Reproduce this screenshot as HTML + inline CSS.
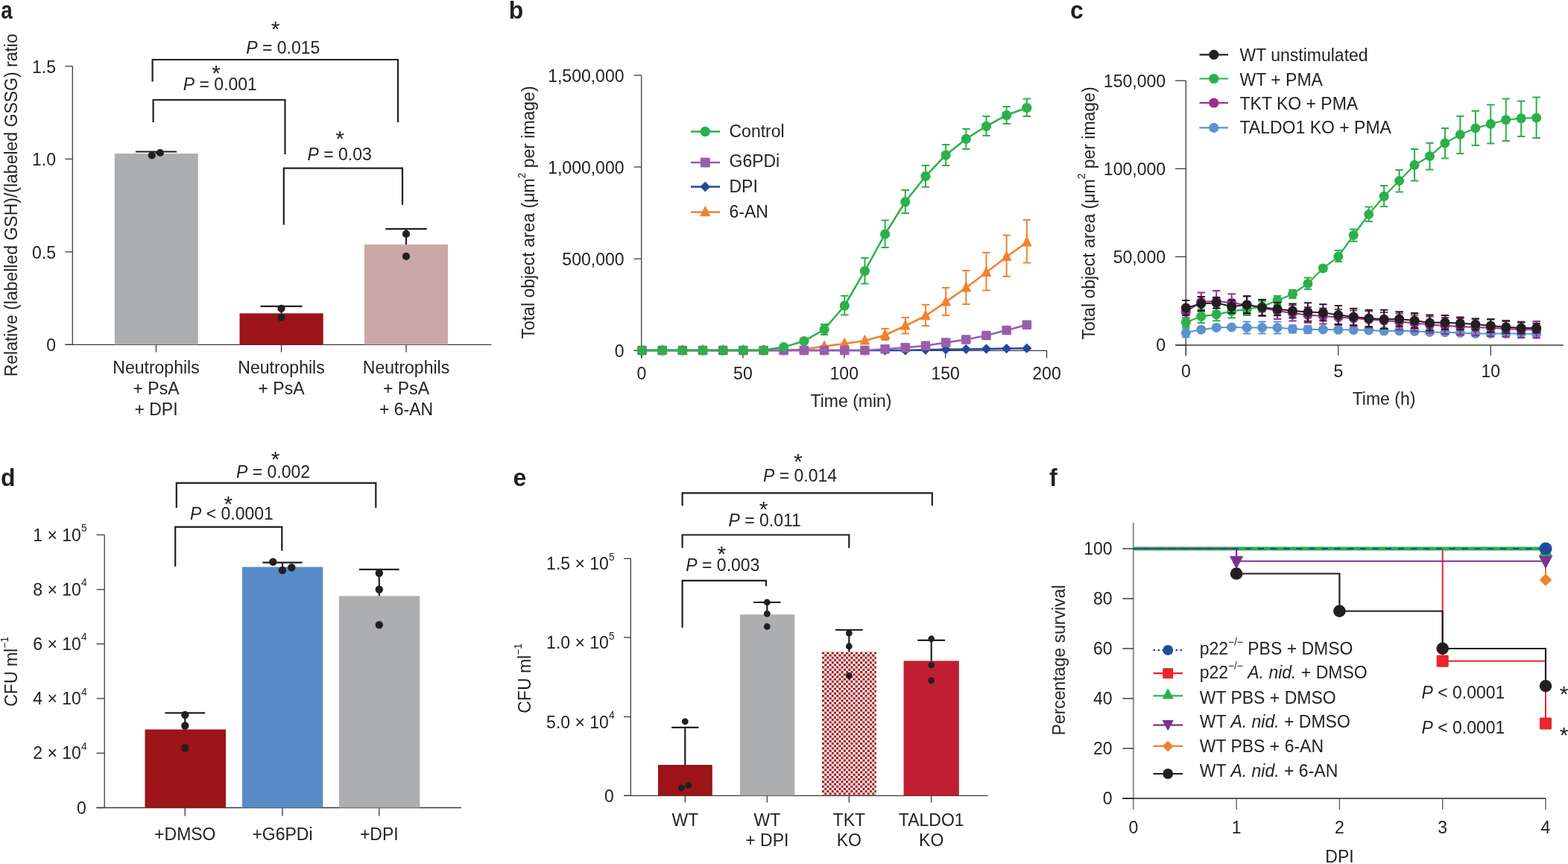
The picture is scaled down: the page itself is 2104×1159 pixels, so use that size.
<!DOCTYPE html>
<html><head><meta charset="utf-8"><title>Figure</title>
<style>
html,body{margin:0;padding:0;background:#fff;}
svg{display:block;}
text{font-family:"Liberation Sans",Arial,Helvetica,sans-serif;}
</style></head>
<body>
<svg width="2104" height="1159" viewBox="0 0 2104 1159">
<rect width="2104" height="1159" fill="#fff"/>
<text transform="translate(1.2,24.9) scale(0.87,1.06)" font-size="32" font-weight="bold" fill="#231F20">a</text>
<text transform="translate(23.3,275.3) rotate(-90) scale(1,1.05)" text-anchor="middle" font-size="23.0" fill="#231F20">Relative (labelled GSH)/(labeled GSSG) ratio</text>
<line x1="97.3" y1="88.7" x2="97.3" y2="462.3" stroke="#3a3a3a" stroke-width="1.3" />
<line x1="87.5" y1="462.3" x2="659.5" y2="462.3" stroke="#3a3a3a" stroke-width="1.3" />
<line x1="87.5" y1="88.9" x2="97.3" y2="88.9" stroke="#3a3a3a" stroke-width="1.3" />
<text transform="translate(75,97.5) scale(1,1.05)" text-anchor="end" font-size="23.0" fill="#231F20" >1.5</text>
<line x1="87.5" y1="213.3" x2="97.3" y2="213.3" stroke="#3a3a3a" stroke-width="1.3" />
<text transform="translate(75,221.9) scale(1,1.05)" text-anchor="end" font-size="23.0" fill="#231F20" >1.0</text>
<line x1="87.5" y1="337.9" x2="97.3" y2="337.9" stroke="#3a3a3a" stroke-width="1.3" />
<text transform="translate(75,346.5) scale(1,1.05)" text-anchor="end" font-size="23.0" fill="#231F20" >0.5</text>
<line x1="87.5" y1="462.3" x2="97.3" y2="462.3" stroke="#3a3a3a" stroke-width="1.3" />
<text transform="translate(75,470.9) scale(1,1.05)" text-anchor="end" font-size="23.0" fill="#231F20" >0</text>
<line x1="209.5" y1="462.3" x2="209.5" y2="472.5" stroke="#3a3a3a" stroke-width="1.3" />
<line x1="377.5" y1="462.3" x2="377.5" y2="472.5" stroke="#3a3a3a" stroke-width="1.3" />
<line x1="545" y1="462.3" x2="545" y2="472.5" stroke="#3a3a3a" stroke-width="1.3" />
<rect x="153.8" y="206" width="112" height="256.3" fill="#ADAEB0"/>
<rect x="321.5" y="420.3" width="112.2" height="42" fill="#9D1419"/>
<rect x="489" y="328" width="112" height="134.3" fill="#CCA7A7"/>
<line x1="209.5" y1="203.5" x2="209.5" y2="206" stroke="#231F20" stroke-width="2.2" />
<line x1="182" y1="203.5" x2="237" y2="203.5" stroke="#231F20" stroke-width="2.2" />
<circle cx="203.8" cy="208.3" r="5.1" fill="#231F20"/>
<circle cx="214.8" cy="205" r="5.1" fill="#231F20"/>
<line x1="377.5" y1="410.8" x2="377.5" y2="420.3" stroke="#231F20" stroke-width="2.2" />
<line x1="349.5" y1="410.8" x2="405.5" y2="410.8" stroke="#231F20" stroke-width="2.2" />
<circle cx="377.5" cy="413.8" r="5.1" fill="#231F20"/>
<circle cx="377.5" cy="426.2" r="5.1" fill="#231F20"/>
<line x1="545" y1="307.2" x2="545" y2="328" stroke="#231F20" stroke-width="2.2" />
<line x1="517.3" y1="307.2" x2="572.7" y2="307.2" stroke="#231F20" stroke-width="2.2" />
<circle cx="545" cy="313.8" r="5.1" fill="#231F20"/>
<circle cx="545" cy="343.8" r="5.1" fill="#231F20"/>
<text transform="translate(209.5,501.3) scale(1,1.05)" text-anchor="middle" font-size="23.0" fill="#231F20" >Neutrophils</text>
<text transform="translate(209.5,528.9) scale(1,1.05)" text-anchor="middle" font-size="23.0" fill="#231F20" >+ PsA</text>
<text transform="translate(209.5,556.5) scale(1,1.05)" text-anchor="middle" font-size="23.0" fill="#231F20" >+ DPI</text>
<text transform="translate(377.5,501.3) scale(1,1.05)" text-anchor="middle" font-size="23.0" fill="#231F20" >Neutrophils</text>
<text transform="translate(377.5,528.9) scale(1,1.05)" text-anchor="middle" font-size="23.0" fill="#231F20" >+ PsA</text>
<text transform="translate(545,501.3) scale(1,1.05)" text-anchor="middle" font-size="23.0" fill="#231F20" >Neutrophils</text>
<text transform="translate(545,528.9) scale(1,1.05)" text-anchor="middle" font-size="23.0" fill="#231F20" >+ PsA</text>
<text transform="translate(545,556.5) scale(1,1.05)" text-anchor="middle" font-size="23.0" fill="#231F20" >+ 6-AN</text>
<polyline points="204.6,109.5 204.6,80 534,80 534,164" fill="none" stroke="#231F20" stroke-width="2.2" stroke-linejoin="miter" />
<polyline points="205.6,164 205.6,134 382.5,134 382.5,207" fill="none" stroke="#231F20" stroke-width="2.2" stroke-linejoin="miter" />
<polyline points="380.8,301.5 380.8,225.7 540,225.7 540,275" fill="none" stroke="#231F20" stroke-width="2.2" stroke-linejoin="miter" />
<text transform="translate(369.7,49.08) scale(1,1.0)" text-anchor="middle" font-size="30" fill="#231F20" >*</text>
<text transform="translate(330.2,71.6) scale(1,1.05)" text-anchor="start" font-size="23.0" fill="#231F20" ><tspan font-style="italic">P</tspan> = 0.015</text>
<text transform="translate(290.2,107.68) scale(1,1.0)" text-anchor="middle" font-size="30" fill="#231F20" >*</text>
<text transform="translate(245.8,121.2) scale(1,1.05)" text-anchor="start" font-size="23.0" fill="#231F20" ><tspan font-style="italic">P</tspan> = 0.001</text>
<text transform="translate(456.2,196.38) scale(1,1.0)" text-anchor="middle" font-size="30" fill="#231F20" >*</text>
<text transform="translate(412.4,214.5) scale(1,1.05)" text-anchor="start" font-size="23.0" fill="#231F20" ><tspan font-style="italic">P</tspan> = 0.03</text>
<text transform="translate(682.8,24.9) scale(1.0,1.06)" font-size="32" font-weight="bold" fill="#231F20">b</text>
<text transform="translate(717.3,285) rotate(-90) scale(1,1.05)" text-anchor="middle" font-size="23.0" fill="#231F20">Total object area (μm<tspan dy="-11.9" font-size="13.7">2</tspan><tspan dy="11.9"> per image)</tspan></text>
<line x1="860.7" y1="101" x2="860.7" y2="480.5" stroke="#3a3a3a" stroke-width="1.3" />
<line x1="850.7" y1="470.3" x2="1405" y2="470.3" stroke="#3a3a3a" stroke-width="1.3" />
<line x1="850.7" y1="101" x2="860.7" y2="101" stroke="#3a3a3a" stroke-width="1.3" />
<text transform="translate(837.5,109.6) scale(1,1.05)" text-anchor="end" font-size="23.0" fill="#231F20" >1,500,000</text>
<line x1="850.7" y1="224" x2="860.7" y2="224" stroke="#3a3a3a" stroke-width="1.3" />
<text transform="translate(837.5,232.6) scale(1,1.05)" text-anchor="end" font-size="23.0" fill="#231F20" >1,000,000</text>
<line x1="850.7" y1="347.2" x2="860.7" y2="347.2" stroke="#3a3a3a" stroke-width="1.3" />
<text transform="translate(837.5,355.8) scale(1,1.05)" text-anchor="end" font-size="23.0" fill="#231F20" >500,000</text>
<line x1="850.7" y1="470.3" x2="860.7" y2="470.3" stroke="#3a3a3a" stroke-width="1.3" />
<text transform="translate(837.5,478.9) scale(1,1.05)" text-anchor="end" font-size="23.0" fill="#231F20" >0</text>
<line x1="861" y1="470.3" x2="861" y2="480.5" stroke="#3a3a3a" stroke-width="1.3" />
<text transform="translate(861,509) scale(1,1.05)" text-anchor="middle" font-size="23.0" fill="#231F20" >0</text>
<line x1="996.88" y1="470.3" x2="996.88" y2="480.5" stroke="#3a3a3a" stroke-width="1.3" />
<text transform="translate(996.88,509) scale(1,1.05)" text-anchor="middle" font-size="23.0" fill="#231F20" >50</text>
<line x1="1132.75" y1="470.3" x2="1132.75" y2="480.5" stroke="#3a3a3a" stroke-width="1.3" />
<text transform="translate(1132.75,509) scale(1,1.05)" text-anchor="middle" font-size="23.0" fill="#231F20" >100</text>
<line x1="1268.62" y1="470.3" x2="1268.62" y2="480.5" stroke="#3a3a3a" stroke-width="1.3" />
<text transform="translate(1268.62,509) scale(1,1.05)" text-anchor="middle" font-size="23.0" fill="#231F20" >150</text>
<line x1="1404.5" y1="470.3" x2="1404.5" y2="480.5" stroke="#3a3a3a" stroke-width="1.3" />
<text transform="translate(1404.5,509) scale(1,1.05)" text-anchor="middle" font-size="23.0" fill="#231F20" >200</text>
<text transform="translate(1142,546) scale(1,1.05)" text-anchor="middle" font-size="23.0" fill="#231F20" >Time (min)</text>
<line x1="1187.6" y1="441" x2="1187.6" y2="456" stroke="#F0822F" stroke-width="2.0" />
<line x1="1182.4" y1="441" x2="1192.8" y2="441" stroke="#F0822F" stroke-width="2.0" />
<line x1="1182.4" y1="456" x2="1192.8" y2="456" stroke="#F0822F" stroke-width="2.0" />
<line x1="1214.78" y1="426" x2="1214.78" y2="447.5" stroke="#F0822F" stroke-width="2.0" />
<line x1="1209.58" y1="426" x2="1219.98" y2="426" stroke="#F0822F" stroke-width="2.0" />
<line x1="1209.58" y1="447.5" x2="1219.98" y2="447.5" stroke="#F0822F" stroke-width="2.0" />
<line x1="1241.95" y1="408.8" x2="1241.95" y2="437" stroke="#F0822F" stroke-width="2.0" />
<line x1="1236.75" y1="408.8" x2="1247.15" y2="408.8" stroke="#F0822F" stroke-width="2.0" />
<line x1="1236.75" y1="437" x2="1247.15" y2="437" stroke="#F0822F" stroke-width="2.0" />
<line x1="1269.12" y1="386" x2="1269.12" y2="423" stroke="#F0822F" stroke-width="2.0" />
<line x1="1263.92" y1="386" x2="1274.33" y2="386" stroke="#F0822F" stroke-width="2.0" />
<line x1="1263.92" y1="423" x2="1274.33" y2="423" stroke="#F0822F" stroke-width="2.0" />
<line x1="1296.3" y1="363" x2="1296.3" y2="408" stroke="#F0822F" stroke-width="2.0" />
<line x1="1291.1" y1="363" x2="1301.5" y2="363" stroke="#F0822F" stroke-width="2.0" />
<line x1="1291.1" y1="408" x2="1301.5" y2="408" stroke="#F0822F" stroke-width="2.0" />
<line x1="1323.47" y1="338.8" x2="1323.47" y2="389.5" stroke="#F0822F" stroke-width="2.0" />
<line x1="1318.27" y1="338.8" x2="1328.67" y2="338.8" stroke="#F0822F" stroke-width="2.0" />
<line x1="1318.27" y1="389.5" x2="1328.67" y2="389.5" stroke="#F0822F" stroke-width="2.0" />
<line x1="1350.65" y1="315.5" x2="1350.65" y2="370.8" stroke="#F0822F" stroke-width="2.0" />
<line x1="1345.45" y1="315.5" x2="1355.85" y2="315.5" stroke="#F0822F" stroke-width="2.0" />
<line x1="1345.45" y1="370.8" x2="1355.85" y2="370.8" stroke="#F0822F" stroke-width="2.0" />
<line x1="1377.82" y1="295" x2="1377.82" y2="352.5" stroke="#F0822F" stroke-width="2.0" />
<line x1="1372.62" y1="295" x2="1383.02" y2="295" stroke="#F0822F" stroke-width="2.0" />
<line x1="1372.62" y1="352.5" x2="1383.02" y2="352.5" stroke="#F0822F" stroke-width="2.0" />
<polyline points="861.5,470 888.67,470 915.85,470 943.02,470 970.2,470 997.38,470 1024.55,470 1051.72,470 1078.9,468.5 1106.08,464.5 1133.25,461 1160.42,457 1187.6,449.5 1214.78,437 1241.95,423.8 1269.12,405 1296.3,386 1323.47,365.5 1350.65,344.5 1377.82,325" fill="none" stroke="#F0822F" stroke-width="2.5" stroke-linejoin="miter" />
<polygon points="861.5,462.5 867.75,475 855.25,475" fill="#F0822F" stroke="#F0822F" stroke-width="1" stroke-linejoin="round"/>
<polygon points="888.67,462.5 894.92,475 882.42,475" fill="#F0822F" stroke="#F0822F" stroke-width="1" stroke-linejoin="round"/>
<polygon points="915.85,462.5 922.1,475 909.6,475" fill="#F0822F" stroke="#F0822F" stroke-width="1" stroke-linejoin="round"/>
<polygon points="943.02,462.5 949.27,475 936.77,475" fill="#F0822F" stroke="#F0822F" stroke-width="1" stroke-linejoin="round"/>
<polygon points="970.2,462.5 976.45,475 963.95,475" fill="#F0822F" stroke="#F0822F" stroke-width="1" stroke-linejoin="round"/>
<polygon points="997.38,462.5 1003.62,475 991.12,475" fill="#F0822F" stroke="#F0822F" stroke-width="1" stroke-linejoin="round"/>
<polygon points="1024.55,462.5 1030.8,475 1018.3,475" fill="#F0822F" stroke="#F0822F" stroke-width="1" stroke-linejoin="round"/>
<polygon points="1051.72,462.5 1057.97,475 1045.47,475" fill="#F0822F" stroke="#F0822F" stroke-width="1" stroke-linejoin="round"/>
<polygon points="1078.9,461 1085.15,473.5 1072.65,473.5" fill="#F0822F" stroke="#F0822F" stroke-width="1" stroke-linejoin="round"/>
<polygon points="1106.08,457 1112.33,469.5 1099.83,469.5" fill="#F0822F" stroke="#F0822F" stroke-width="1" stroke-linejoin="round"/>
<polygon points="1133.25,453.5 1139.5,466 1127,466" fill="#F0822F" stroke="#F0822F" stroke-width="1" stroke-linejoin="round"/>
<polygon points="1160.42,449.5 1166.67,462 1154.17,462" fill="#F0822F" stroke="#F0822F" stroke-width="1" stroke-linejoin="round"/>
<polygon points="1187.6,442 1193.85,454.5 1181.35,454.5" fill="#F0822F" stroke="#F0822F" stroke-width="1" stroke-linejoin="round"/>
<polygon points="1214.78,429.5 1221.03,442 1208.53,442" fill="#F0822F" stroke="#F0822F" stroke-width="1" stroke-linejoin="round"/>
<polygon points="1241.95,416.3 1248.2,428.8 1235.7,428.8" fill="#F0822F" stroke="#F0822F" stroke-width="1" stroke-linejoin="round"/>
<polygon points="1269.12,397.5 1275.38,410 1262.88,410" fill="#F0822F" stroke="#F0822F" stroke-width="1" stroke-linejoin="round"/>
<polygon points="1296.3,378.5 1302.55,391 1290.05,391" fill="#F0822F" stroke="#F0822F" stroke-width="1" stroke-linejoin="round"/>
<polygon points="1323.47,358 1329.72,370.5 1317.22,370.5" fill="#F0822F" stroke="#F0822F" stroke-width="1" stroke-linejoin="round"/>
<polygon points="1350.65,337 1356.9,349.5 1344.4,349.5" fill="#F0822F" stroke="#F0822F" stroke-width="1" stroke-linejoin="round"/>
<polygon points="1377.82,317.5 1384.07,330 1371.57,330" fill="#F0822F" stroke="#F0822F" stroke-width="1" stroke-linejoin="round"/>
<polyline points="861.5,470 888.67,470 915.85,470 943.02,470 970.2,470 997.38,470 1024.55,470 1051.72,470 1078.9,470 1106.08,470 1133.25,470 1160.42,470 1187.6,470 1214.78,470 1241.95,469.2 1269.12,468.8 1296.3,468.4 1323.47,468 1350.65,467.6 1377.82,467.2" fill="none" stroke="#1F4A9E" stroke-width="2.5" stroke-linejoin="miter" />
<polygon points="861.5,463.8 867.7,470 861.5,476.2 855.3,470" fill="#1F4A9E" stroke="#1F4A9E" stroke-width="0.8" stroke-linejoin="round"/>
<polygon points="888.67,463.8 894.88,470 888.67,476.2 882.47,470" fill="#1F4A9E" stroke="#1F4A9E" stroke-width="0.8" stroke-linejoin="round"/>
<polygon points="915.85,463.8 922.05,470 915.85,476.2 909.65,470" fill="#1F4A9E" stroke="#1F4A9E" stroke-width="0.8" stroke-linejoin="round"/>
<polygon points="943.02,463.8 949.23,470 943.02,476.2 936.82,470" fill="#1F4A9E" stroke="#1F4A9E" stroke-width="0.8" stroke-linejoin="round"/>
<polygon points="970.2,463.8 976.4,470 970.2,476.2 964,470" fill="#1F4A9E" stroke="#1F4A9E" stroke-width="0.8" stroke-linejoin="round"/>
<polygon points="997.38,463.8 1003.58,470 997.38,476.2 991.17,470" fill="#1F4A9E" stroke="#1F4A9E" stroke-width="0.8" stroke-linejoin="round"/>
<polygon points="1024.55,463.8 1030.75,470 1024.55,476.2 1018.35,470" fill="#1F4A9E" stroke="#1F4A9E" stroke-width="0.8" stroke-linejoin="round"/>
<polygon points="1051.72,463.8 1057.92,470 1051.72,476.2 1045.52,470" fill="#1F4A9E" stroke="#1F4A9E" stroke-width="0.8" stroke-linejoin="round"/>
<polygon points="1078.9,463.8 1085.1,470 1078.9,476.2 1072.7,470" fill="#1F4A9E" stroke="#1F4A9E" stroke-width="0.8" stroke-linejoin="round"/>
<polygon points="1106.08,463.8 1112.28,470 1106.08,476.2 1099.88,470" fill="#1F4A9E" stroke="#1F4A9E" stroke-width="0.8" stroke-linejoin="round"/>
<polygon points="1133.25,463.8 1139.45,470 1133.25,476.2 1127.05,470" fill="#1F4A9E" stroke="#1F4A9E" stroke-width="0.8" stroke-linejoin="round"/>
<polygon points="1160.42,463.8 1166.62,470 1160.42,476.2 1154.22,470" fill="#1F4A9E" stroke="#1F4A9E" stroke-width="0.8" stroke-linejoin="round"/>
<polygon points="1187.6,463.8 1193.8,470 1187.6,476.2 1181.4,470" fill="#1F4A9E" stroke="#1F4A9E" stroke-width="0.8" stroke-linejoin="round"/>
<polygon points="1214.78,463.8 1220.98,470 1214.78,476.2 1208.58,470" fill="#1F4A9E" stroke="#1F4A9E" stroke-width="0.8" stroke-linejoin="round"/>
<polygon points="1241.95,463 1248.15,469.2 1241.95,475.4 1235.75,469.2" fill="#1F4A9E" stroke="#1F4A9E" stroke-width="0.8" stroke-linejoin="round"/>
<polygon points="1269.12,462.6 1275.33,468.8 1269.12,475 1262.92,468.8" fill="#1F4A9E" stroke="#1F4A9E" stroke-width="0.8" stroke-linejoin="round"/>
<polygon points="1296.3,462.2 1302.5,468.4 1296.3,474.6 1290.1,468.4" fill="#1F4A9E" stroke="#1F4A9E" stroke-width="0.8" stroke-linejoin="round"/>
<polygon points="1323.47,461.8 1329.67,468 1323.47,474.2 1317.27,468" fill="#1F4A9E" stroke="#1F4A9E" stroke-width="0.8" stroke-linejoin="round"/>
<polygon points="1350.65,461.4 1356.85,467.6 1350.65,473.8 1344.45,467.6" fill="#1F4A9E" stroke="#1F4A9E" stroke-width="0.8" stroke-linejoin="round"/>
<polygon points="1377.82,461 1384.02,467.2 1377.82,473.4 1371.62,467.2" fill="#1F4A9E" stroke="#1F4A9E" stroke-width="0.8" stroke-linejoin="round"/>
<polyline points="861.5,470 888.67,470 915.85,470 943.02,470 970.2,470 997.38,470 1024.55,470 1051.72,470 1078.9,470 1106.08,470 1133.25,470 1160.42,470 1187.6,468.2 1214.78,466.2 1241.95,463.8 1269.12,459.5 1296.3,455.5 1323.47,450 1350.65,443 1377.82,435.8" fill="none" stroke="#985EAC" stroke-width="2.5" stroke-linejoin="miter" />
<rect x="855.25" y="463.75" width="12.5" height="12.5" rx="1.2" fill="#985EAC"/>
<rect x="882.42" y="463.75" width="12.5" height="12.5" rx="1.2" fill="#985EAC"/>
<rect x="909.6" y="463.75" width="12.5" height="12.5" rx="1.2" fill="#985EAC"/>
<rect x="936.77" y="463.75" width="12.5" height="12.5" rx="1.2" fill="#985EAC"/>
<rect x="963.95" y="463.75" width="12.5" height="12.5" rx="1.2" fill="#985EAC"/>
<rect x="991.12" y="463.75" width="12.5" height="12.5" rx="1.2" fill="#985EAC"/>
<rect x="1018.3" y="463.75" width="12.5" height="12.5" rx="1.2" fill="#985EAC"/>
<rect x="1045.47" y="463.75" width="12.5" height="12.5" rx="1.2" fill="#985EAC"/>
<rect x="1072.65" y="463.75" width="12.5" height="12.5" rx="1.2" fill="#985EAC"/>
<rect x="1099.83" y="463.75" width="12.5" height="12.5" rx="1.2" fill="#985EAC"/>
<rect x="1127" y="463.75" width="12.5" height="12.5" rx="1.2" fill="#985EAC"/>
<rect x="1154.17" y="463.75" width="12.5" height="12.5" rx="1.2" fill="#985EAC"/>
<rect x="1181.35" y="461.95" width="12.5" height="12.5" rx="1.2" fill="#985EAC"/>
<rect x="1208.53" y="459.95" width="12.5" height="12.5" rx="1.2" fill="#985EAC"/>
<rect x="1235.7" y="457.55" width="12.5" height="12.5" rx="1.2" fill="#985EAC"/>
<rect x="1262.88" y="453.25" width="12.5" height="12.5" rx="1.2" fill="#985EAC"/>
<rect x="1290.05" y="449.25" width="12.5" height="12.5" rx="1.2" fill="#985EAC"/>
<rect x="1317.22" y="443.75" width="12.5" height="12.5" rx="1.2" fill="#985EAC"/>
<rect x="1344.4" y="436.75" width="12.5" height="12.5" rx="1.2" fill="#985EAC"/>
<rect x="1371.57" y="429.55" width="12.5" height="12.5" rx="1.2" fill="#985EAC"/>
<line x1="1106.08" y1="435" x2="1106.08" y2="449" stroke="#2BB04A" stroke-width="2.0" />
<line x1="1100.88" y1="435" x2="1111.28" y2="435" stroke="#2BB04A" stroke-width="2.0" />
<line x1="1100.88" y1="449" x2="1111.28" y2="449" stroke="#2BB04A" stroke-width="2.0" />
<line x1="1133.25" y1="396.8" x2="1133.25" y2="422.5" stroke="#2BB04A" stroke-width="2.0" />
<line x1="1128.05" y1="396.8" x2="1138.45" y2="396.8" stroke="#2BB04A" stroke-width="2.0" />
<line x1="1128.05" y1="422.5" x2="1138.45" y2="422.5" stroke="#2BB04A" stroke-width="2.0" />
<line x1="1160.42" y1="346" x2="1160.42" y2="380.5" stroke="#2BB04A" stroke-width="2.0" />
<line x1="1155.22" y1="346" x2="1165.62" y2="346" stroke="#2BB04A" stroke-width="2.0" />
<line x1="1155.22" y1="380.5" x2="1165.62" y2="380.5" stroke="#2BB04A" stroke-width="2.0" />
<line x1="1187.6" y1="295.5" x2="1187.6" y2="332" stroke="#2BB04A" stroke-width="2.0" />
<line x1="1182.4" y1="295.5" x2="1192.8" y2="295.5" stroke="#2BB04A" stroke-width="2.0" />
<line x1="1182.4" y1="332" x2="1192.8" y2="332" stroke="#2BB04A" stroke-width="2.0" />
<line x1="1214.78" y1="255" x2="1214.78" y2="286" stroke="#2BB04A" stroke-width="2.0" />
<line x1="1209.58" y1="255" x2="1219.98" y2="255" stroke="#2BB04A" stroke-width="2.0" />
<line x1="1209.58" y1="286" x2="1219.98" y2="286" stroke="#2BB04A" stroke-width="2.0" />
<line x1="1241.95" y1="222" x2="1241.95" y2="250.8" stroke="#2BB04A" stroke-width="2.0" />
<line x1="1236.75" y1="222" x2="1247.15" y2="222" stroke="#2BB04A" stroke-width="2.0" />
<line x1="1236.75" y1="250.8" x2="1247.15" y2="250.8" stroke="#2BB04A" stroke-width="2.0" />
<line x1="1269.12" y1="194" x2="1269.12" y2="222" stroke="#2BB04A" stroke-width="2.0" />
<line x1="1263.92" y1="194" x2="1274.33" y2="194" stroke="#2BB04A" stroke-width="2.0" />
<line x1="1263.92" y1="222" x2="1274.33" y2="222" stroke="#2BB04A" stroke-width="2.0" />
<line x1="1296.3" y1="173" x2="1296.3" y2="200" stroke="#2BB04A" stroke-width="2.0" />
<line x1="1291.1" y1="173" x2="1301.5" y2="173" stroke="#2BB04A" stroke-width="2.0" />
<line x1="1291.1" y1="200" x2="1301.5" y2="200" stroke="#2BB04A" stroke-width="2.0" />
<line x1="1323.47" y1="156" x2="1323.47" y2="182" stroke="#2BB04A" stroke-width="2.0" />
<line x1="1318.27" y1="156" x2="1328.67" y2="156" stroke="#2BB04A" stroke-width="2.0" />
<line x1="1318.27" y1="182" x2="1328.67" y2="182" stroke="#2BB04A" stroke-width="2.0" />
<line x1="1350.65" y1="143" x2="1350.65" y2="166" stroke="#2BB04A" stroke-width="2.0" />
<line x1="1345.45" y1="143" x2="1355.85" y2="143" stroke="#2BB04A" stroke-width="2.0" />
<line x1="1345.45" y1="166" x2="1355.85" y2="166" stroke="#2BB04A" stroke-width="2.0" />
<line x1="1377.82" y1="132.5" x2="1377.82" y2="156" stroke="#2BB04A" stroke-width="2.0" />
<line x1="1372.62" y1="132.5" x2="1383.02" y2="132.5" stroke="#2BB04A" stroke-width="2.0" />
<line x1="1372.62" y1="156" x2="1383.02" y2="156" stroke="#2BB04A" stroke-width="2.0" />
<polyline points="861.5,470 888.67,470 915.85,470 943.02,470 970.2,470 997.38,470 1024.55,469.8 1051.72,465.6 1078.9,457.5 1106.08,441.8 1133.25,410 1160.42,363.5 1187.6,314 1214.78,270.8 1241.95,236.3 1269.12,208 1296.3,186.3 1323.47,169.3 1350.65,154.5 1377.82,144.5" fill="none" stroke="#2BB04A" stroke-width="2.5" stroke-linejoin="miter" />
<circle cx="861.5" cy="470" r="6.6" fill="#2BB04A"/>
<circle cx="888.67" cy="470" r="6.6" fill="#2BB04A"/>
<circle cx="915.85" cy="470" r="6.6" fill="#2BB04A"/>
<circle cx="943.02" cy="470" r="6.6" fill="#2BB04A"/>
<circle cx="970.2" cy="470" r="6.6" fill="#2BB04A"/>
<circle cx="997.38" cy="470" r="6.6" fill="#2BB04A"/>
<circle cx="1024.55" cy="469.8" r="6.6" fill="#2BB04A"/>
<circle cx="1051.72" cy="465.6" r="6.6" fill="#2BB04A"/>
<circle cx="1078.9" cy="457.5" r="6.6" fill="#2BB04A"/>
<circle cx="1106.08" cy="441.8" r="6.6" fill="#2BB04A"/>
<circle cx="1133.25" cy="410" r="6.6" fill="#2BB04A"/>
<circle cx="1160.42" cy="363.5" r="6.6" fill="#2BB04A"/>
<circle cx="1187.6" cy="314" r="6.6" fill="#2BB04A"/>
<circle cx="1214.78" cy="270.8" r="6.6" fill="#2BB04A"/>
<circle cx="1241.95" cy="236.3" r="6.6" fill="#2BB04A"/>
<circle cx="1269.12" cy="208" r="6.6" fill="#2BB04A"/>
<circle cx="1296.3" cy="186.3" r="6.6" fill="#2BB04A"/>
<circle cx="1323.47" cy="169.3" r="6.6" fill="#2BB04A"/>
<circle cx="1350.65" cy="154.5" r="6.6" fill="#2BB04A"/>
<circle cx="1377.82" cy="144.5" r="6.6" fill="#2BB04A"/>
<line x1="927" y1="176.5" x2="966" y2="176.5" stroke="#2BB04A" stroke-width="2.5" />
<circle cx="946.3" cy="176.5" r="6.7" fill="#2BB04A"/>
<text transform="translate(978.5,184.3) scale(1,1.05)" text-anchor="start" font-size="23.0" fill="#231F20" >Control</text>
<line x1="927" y1="218" x2="966" y2="218" stroke="#985EAC" stroke-width="2.5" />
<rect x="939.8" y="211.5" width="13" height="13" rx="1.2" fill="#985EAC"/>
<text transform="translate(978.5,223.8) scale(1,1.05)" text-anchor="start" font-size="23.0" fill="#231F20" >G6PDi</text>
<line x1="927" y1="250.5" x2="966" y2="250.5" stroke="#1F4A9E" stroke-width="2.5" />
<polygon points="946.3,244 952.8,250.5 946.3,257 939.8,250.5" fill="#1F4A9E" stroke="#1F4A9E" stroke-width="0.8" stroke-linejoin="round"/>
<text transform="translate(978.5,257.5) scale(1,1.05)" text-anchor="start" font-size="23.0" fill="#231F20" >DPI</text>
<line x1="927" y1="284.5" x2="966" y2="284.5" stroke="#F0822F" stroke-width="2.5" />
<polygon points="946.3,276.7 952.8,289.7 939.8,289.7" fill="#F0822F" stroke="#F0822F" stroke-width="1" stroke-linejoin="round"/>
<text transform="translate(978.5,292) scale(1,1.05)" text-anchor="start" font-size="23.0" fill="#231F20" >6-AN</text>
<text transform="translate(1436,24.9) scale(1.0,1.06)" font-size="32" font-weight="bold" fill="#231F20">c</text>
<text transform="translate(1468.8,286) rotate(-90) scale(1,1.05)" text-anchor="middle" font-size="23.0" fill="#231F20">Total object area (μm<tspan dy="-11.9" font-size="13.7">2</tspan><tspan dy="11.9"> per image)</tspan></text>
<line x1="1591.3" y1="108" x2="1591.3" y2="477" stroke="#3a3a3a" stroke-width="1.3" />
<line x1="1577" y1="463" x2="2097.8" y2="463" stroke="#3a3a3a" stroke-width="1.3" />
<line x1="1577" y1="108.2" x2="1591.3" y2="108.2" stroke="#3a3a3a" stroke-width="1.3" />
<text transform="translate(1564,116.6) scale(1,1.05)" text-anchor="end" font-size="23.0" fill="#231F20" >150,000</text>
<line x1="1577" y1="226.3" x2="1591.3" y2="226.3" stroke="#3a3a3a" stroke-width="1.3" />
<text transform="translate(1564,234.7) scale(1,1.05)" text-anchor="end" font-size="23.0" fill="#231F20" >100,000</text>
<line x1="1577" y1="344.4" x2="1591.3" y2="344.4" stroke="#3a3a3a" stroke-width="1.3" />
<text transform="translate(1564,352.8) scale(1,1.05)" text-anchor="end" font-size="23.0" fill="#231F20" >50,000</text>
<line x1="1577" y1="463" x2="1591.3" y2="463" stroke="#3a3a3a" stroke-width="1.3" />
<text transform="translate(1564,471.4) scale(1,1.05)" text-anchor="end" font-size="23.0" fill="#231F20" >0</text>
<line x1="1591.3" y1="463" x2="1591.3" y2="477" stroke="#3a3a3a" stroke-width="1.3" />
<text transform="translate(1591.3,505.7) scale(1,1.05)" text-anchor="middle" font-size="23.0" fill="#231F20" >0</text>
<line x1="1795.8" y1="463" x2="1795.8" y2="477" stroke="#3a3a3a" stroke-width="1.3" />
<text transform="translate(1795.8,505.7) scale(1,1.05)" text-anchor="middle" font-size="23.0" fill="#231F20" >5</text>
<line x1="2000.3" y1="463" x2="2000.3" y2="477" stroke="#3a3a3a" stroke-width="1.3" />
<text transform="translate(2000.3,505.7) scale(1,1.05)" text-anchor="middle" font-size="23.0" fill="#231F20" >10</text>
<text transform="translate(1857,542.6) scale(1,1.05)" text-anchor="middle" font-size="23.0" fill="#231F20" >Time (h)</text>
<line x1="1591.3" y1="440.3" x2="1591.3" y2="452.3" stroke="#5B93CE" stroke-width="2.0" />
<line x1="1586.1" y1="440.3" x2="1596.5" y2="440.3" stroke="#5B93CE" stroke-width="2.0" />
<line x1="1586.1" y1="452.3" x2="1596.5" y2="452.3" stroke="#5B93CE" stroke-width="2.0" />
<line x1="1611.75" y1="440.2" x2="1611.75" y2="444.2" stroke="#5B93CE" stroke-width="2.0" />
<line x1="1606.55" y1="440.2" x2="1616.95" y2="440.2" stroke="#5B93CE" stroke-width="2.0" />
<line x1="1606.55" y1="444.2" x2="1616.95" y2="444.2" stroke="#5B93CE" stroke-width="2.0" />
<line x1="1632.2" y1="437.4" x2="1632.2" y2="441.4" stroke="#5B93CE" stroke-width="2.0" />
<line x1="1627" y1="437.4" x2="1637.4" y2="437.4" stroke="#5B93CE" stroke-width="2.0" />
<line x1="1627" y1="441.4" x2="1637.4" y2="441.4" stroke="#5B93CE" stroke-width="2.0" />
<line x1="1652.65" y1="437" x2="1652.65" y2="441" stroke="#5B93CE" stroke-width="2.0" />
<line x1="1647.45" y1="437" x2="1657.85" y2="437" stroke="#5B93CE" stroke-width="2.0" />
<line x1="1647.45" y1="441" x2="1657.85" y2="441" stroke="#5B93CE" stroke-width="2.0" />
<line x1="1673.1" y1="431.5" x2="1673.1" y2="447.5" stroke="#5B93CE" stroke-width="2.0" />
<line x1="1667.9" y1="431.5" x2="1678.3" y2="431.5" stroke="#5B93CE" stroke-width="2.0" />
<line x1="1667.9" y1="447.5" x2="1678.3" y2="447.5" stroke="#5B93CE" stroke-width="2.0" />
<line x1="1693.55" y1="431.5" x2="1693.55" y2="447.5" stroke="#5B93CE" stroke-width="2.0" />
<line x1="1688.35" y1="431.5" x2="1698.75" y2="431.5" stroke="#5B93CE" stroke-width="2.0" />
<line x1="1688.35" y1="447.5" x2="1698.75" y2="447.5" stroke="#5B93CE" stroke-width="2.0" />
<line x1="1714" y1="431.5" x2="1714" y2="447.5" stroke="#5B93CE" stroke-width="2.0" />
<line x1="1708.8" y1="431.5" x2="1719.2" y2="431.5" stroke="#5B93CE" stroke-width="2.0" />
<line x1="1708.8" y1="447.5" x2="1719.2" y2="447.5" stroke="#5B93CE" stroke-width="2.0" />
<line x1="1734.45" y1="436.3" x2="1734.45" y2="446.3" stroke="#5B93CE" stroke-width="2.0" />
<line x1="1729.25" y1="436.3" x2="1739.65" y2="436.3" stroke="#5B93CE" stroke-width="2.0" />
<line x1="1729.25" y1="446.3" x2="1739.65" y2="446.3" stroke="#5B93CE" stroke-width="2.0" />
<line x1="1754.9" y1="437" x2="1754.9" y2="447" stroke="#5B93CE" stroke-width="2.0" />
<line x1="1749.7" y1="437" x2="1760.1" y2="437" stroke="#5B93CE" stroke-width="2.0" />
<line x1="1749.7" y1="447" x2="1760.1" y2="447" stroke="#5B93CE" stroke-width="2.0" />
<line x1="1775.35" y1="439" x2="1775.35" y2="445" stroke="#5B93CE" stroke-width="2.0" />
<line x1="1770.15" y1="439" x2="1780.55" y2="439" stroke="#5B93CE" stroke-width="2.0" />
<line x1="1770.15" y1="445" x2="1780.55" y2="445" stroke="#5B93CE" stroke-width="2.0" />
<line x1="1795.8" y1="439.3" x2="1795.8" y2="445.3" stroke="#5B93CE" stroke-width="2.0" />
<line x1="1790.6" y1="439.3" x2="1801" y2="439.3" stroke="#5B93CE" stroke-width="2.0" />
<line x1="1790.6" y1="445.3" x2="1801" y2="445.3" stroke="#5B93CE" stroke-width="2.0" />
<line x1="1816.25" y1="440.6" x2="1816.25" y2="444.6" stroke="#5B93CE" stroke-width="2.0" />
<line x1="1811.05" y1="440.6" x2="1821.45" y2="440.6" stroke="#5B93CE" stroke-width="2.0" />
<line x1="1811.05" y1="444.6" x2="1821.45" y2="444.6" stroke="#5B93CE" stroke-width="2.0" />
<line x1="1836.7" y1="441" x2="1836.7" y2="445" stroke="#5B93CE" stroke-width="2.0" />
<line x1="1831.5" y1="441" x2="1841.9" y2="441" stroke="#5B93CE" stroke-width="2.0" />
<line x1="1831.5" y1="445" x2="1841.9" y2="445" stroke="#5B93CE" stroke-width="2.0" />
<line x1="1857.15" y1="442" x2="1857.15" y2="446" stroke="#5B93CE" stroke-width="2.0" />
<line x1="1851.95" y1="442" x2="1862.35" y2="442" stroke="#5B93CE" stroke-width="2.0" />
<line x1="1851.95" y1="446" x2="1862.35" y2="446" stroke="#5B93CE" stroke-width="2.0" />
<line x1="1877.6" y1="441.8" x2="1877.6" y2="445.8" stroke="#5B93CE" stroke-width="2.0" />
<line x1="1872.4" y1="441.8" x2="1882.8" y2="441.8" stroke="#5B93CE" stroke-width="2.0" />
<line x1="1872.4" y1="445.8" x2="1882.8" y2="445.8" stroke="#5B93CE" stroke-width="2.0" />
<line x1="1898.05" y1="442.3" x2="1898.05" y2="446.3" stroke="#5B93CE" stroke-width="2.0" />
<line x1="1892.85" y1="442.3" x2="1903.25" y2="442.3" stroke="#5B93CE" stroke-width="2.0" />
<line x1="1892.85" y1="446.3" x2="1903.25" y2="446.3" stroke="#5B93CE" stroke-width="2.0" />
<line x1="1918.5" y1="443.5" x2="1918.5" y2="447.5" stroke="#5B93CE" stroke-width="2.0" />
<line x1="1913.3" y1="443.5" x2="1923.7" y2="443.5" stroke="#5B93CE" stroke-width="2.0" />
<line x1="1913.3" y1="447.5" x2="1923.7" y2="447.5" stroke="#5B93CE" stroke-width="2.0" />
<line x1="1938.95" y1="443.7" x2="1938.95" y2="447.7" stroke="#5B93CE" stroke-width="2.0" />
<line x1="1933.75" y1="443.7" x2="1944.15" y2="443.7" stroke="#5B93CE" stroke-width="2.0" />
<line x1="1933.75" y1="447.7" x2="1944.15" y2="447.7" stroke="#5B93CE" stroke-width="2.0" />
<line x1="1959.4" y1="444.5" x2="1959.4" y2="448.5" stroke="#5B93CE" stroke-width="2.0" />
<line x1="1954.2" y1="444.5" x2="1964.6" y2="444.5" stroke="#5B93CE" stroke-width="2.0" />
<line x1="1954.2" y1="448.5" x2="1964.6" y2="448.5" stroke="#5B93CE" stroke-width="2.0" />
<line x1="1979.85" y1="445.5" x2="1979.85" y2="449.5" stroke="#5B93CE" stroke-width="2.0" />
<line x1="1974.65" y1="445.5" x2="1985.05" y2="445.5" stroke="#5B93CE" stroke-width="2.0" />
<line x1="1974.65" y1="449.5" x2="1985.05" y2="449.5" stroke="#5B93CE" stroke-width="2.0" />
<line x1="2000.3" y1="445.5" x2="2000.3" y2="449.5" stroke="#5B93CE" stroke-width="2.0" />
<line x1="1995.1" y1="445.5" x2="2005.5" y2="445.5" stroke="#5B93CE" stroke-width="2.0" />
<line x1="1995.1" y1="449.5" x2="2005.5" y2="449.5" stroke="#5B93CE" stroke-width="2.0" />
<line x1="2020.75" y1="445.4" x2="2020.75" y2="449.4" stroke="#5B93CE" stroke-width="2.0" />
<line x1="2015.55" y1="445.4" x2="2025.95" y2="445.4" stroke="#5B93CE" stroke-width="2.0" />
<line x1="2015.55" y1="449.4" x2="2025.95" y2="449.4" stroke="#5B93CE" stroke-width="2.0" />
<line x1="2041.2" y1="445.5" x2="2041.2" y2="449.5" stroke="#5B93CE" stroke-width="2.0" />
<line x1="2036" y1="445.5" x2="2046.4" y2="445.5" stroke="#5B93CE" stroke-width="2.0" />
<line x1="2036" y1="449.5" x2="2046.4" y2="449.5" stroke="#5B93CE" stroke-width="2.0" />
<line x1="2061.65" y1="446" x2="2061.65" y2="450" stroke="#5B93CE" stroke-width="2.0" />
<line x1="2056.45" y1="446" x2="2066.85" y2="446" stroke="#5B93CE" stroke-width="2.0" />
<line x1="2056.45" y1="450" x2="2066.85" y2="450" stroke="#5B93CE" stroke-width="2.0" />
<polyline points="1591.3,446.3 1611.75,442.2 1632.2,439.4 1652.65,439 1673.1,439.5 1693.55,439.5 1714,439.5 1734.45,441.3 1754.9,442 1775.35,442 1795.8,442.3 1816.25,442.6 1836.7,443 1857.15,444 1877.6,443.8 1898.05,444.3 1918.5,445.5 1938.95,445.7 1959.4,446.5 1979.85,447.5 2000.3,447.5 2020.75,447.4 2041.2,447.5 2061.65,448" fill="none" stroke="#5B93CE" stroke-width="2.0" stroke-linejoin="miter" />
<circle cx="1591.3" cy="446.3" r="6.5" fill="#5B93CE"/>
<circle cx="1611.75" cy="442.2" r="6.5" fill="#5B93CE"/>
<circle cx="1632.2" cy="439.4" r="6.5" fill="#5B93CE"/>
<circle cx="1652.65" cy="439" r="6.5" fill="#5B93CE"/>
<circle cx="1673.1" cy="439.5" r="6.5" fill="#5B93CE"/>
<circle cx="1693.55" cy="439.5" r="6.5" fill="#5B93CE"/>
<circle cx="1714" cy="439.5" r="6.5" fill="#5B93CE"/>
<circle cx="1734.45" cy="441.3" r="6.5" fill="#5B93CE"/>
<circle cx="1754.9" cy="442" r="6.5" fill="#5B93CE"/>
<circle cx="1775.35" cy="442" r="6.5" fill="#5B93CE"/>
<circle cx="1795.8" cy="442.3" r="6.5" fill="#5B93CE"/>
<circle cx="1816.25" cy="442.6" r="6.5" fill="#5B93CE"/>
<circle cx="1836.7" cy="443" r="6.5" fill="#5B93CE"/>
<circle cx="1857.15" cy="444" r="6.5" fill="#5B93CE"/>
<circle cx="1877.6" cy="443.8" r="6.5" fill="#5B93CE"/>
<circle cx="1898.05" cy="444.3" r="6.5" fill="#5B93CE"/>
<circle cx="1918.5" cy="445.5" r="6.5" fill="#5B93CE"/>
<circle cx="1938.95" cy="445.7" r="6.5" fill="#5B93CE"/>
<circle cx="1959.4" cy="446.5" r="6.5" fill="#5B93CE"/>
<circle cx="1979.85" cy="447.5" r="6.5" fill="#5B93CE"/>
<circle cx="2000.3" cy="447.5" r="6.5" fill="#5B93CE"/>
<circle cx="2020.75" cy="447.4" r="6.5" fill="#5B93CE"/>
<circle cx="2041.2" cy="447.5" r="6.5" fill="#5B93CE"/>
<circle cx="2061.65" cy="448" r="6.5" fill="#5B93CE"/>
<line x1="1591.3" y1="410.3" x2="1591.3" y2="426.3" stroke="#9C2A8F" stroke-width="2.0" />
<line x1="1586.1" y1="410.3" x2="1596.5" y2="410.3" stroke="#9C2A8F" stroke-width="2.0" />
<line x1="1586.1" y1="426.3" x2="1596.5" y2="426.3" stroke="#9C2A8F" stroke-width="2.0" />
<line x1="1611.75" y1="392.5" x2="1611.75" y2="417.5" stroke="#9C2A8F" stroke-width="2.0" />
<line x1="1606.55" y1="392.5" x2="1616.95" y2="392.5" stroke="#9C2A8F" stroke-width="2.0" />
<line x1="1606.55" y1="417.5" x2="1616.95" y2="417.5" stroke="#9C2A8F" stroke-width="2.0" />
<line x1="1632.2" y1="390" x2="1632.2" y2="417.6" stroke="#9C2A8F" stroke-width="2.0" />
<line x1="1627" y1="390" x2="1637.4" y2="390" stroke="#9C2A8F" stroke-width="2.0" />
<line x1="1627" y1="417.6" x2="1637.4" y2="417.6" stroke="#9C2A8F" stroke-width="2.0" />
<line x1="1652.65" y1="394.3" x2="1652.65" y2="418.3" stroke="#9C2A8F" stroke-width="2.0" />
<line x1="1647.45" y1="394.3" x2="1657.85" y2="394.3" stroke="#9C2A8F" stroke-width="2.0" />
<line x1="1647.45" y1="418.3" x2="1657.85" y2="418.3" stroke="#9C2A8F" stroke-width="2.0" />
<line x1="1673.1" y1="397" x2="1673.1" y2="421" stroke="#9C2A8F" stroke-width="2.0" />
<line x1="1667.9" y1="397" x2="1678.3" y2="397" stroke="#9C2A8F" stroke-width="2.0" />
<line x1="1667.9" y1="421" x2="1678.3" y2="421" stroke="#9C2A8F" stroke-width="2.0" />
<line x1="1693.55" y1="402" x2="1693.55" y2="424" stroke="#9C2A8F" stroke-width="2.0" />
<line x1="1688.35" y1="402" x2="1698.75" y2="402" stroke="#9C2A8F" stroke-width="2.0" />
<line x1="1688.35" y1="424" x2="1698.75" y2="424" stroke="#9C2A8F" stroke-width="2.0" />
<line x1="1714" y1="406" x2="1714" y2="428" stroke="#9C2A8F" stroke-width="2.0" />
<line x1="1708.8" y1="406" x2="1719.2" y2="406" stroke="#9C2A8F" stroke-width="2.0" />
<line x1="1708.8" y1="428" x2="1719.2" y2="428" stroke="#9C2A8F" stroke-width="2.0" />
<line x1="1734.45" y1="409.5" x2="1734.45" y2="430.5" stroke="#9C2A8F" stroke-width="2.0" />
<line x1="1729.25" y1="409.5" x2="1739.65" y2="409.5" stroke="#9C2A8F" stroke-width="2.0" />
<line x1="1729.25" y1="430.5" x2="1739.65" y2="430.5" stroke="#9C2A8F" stroke-width="2.0" />
<line x1="1754.9" y1="412" x2="1754.9" y2="433" stroke="#9C2A8F" stroke-width="2.0" />
<line x1="1749.7" y1="412" x2="1760.1" y2="412" stroke="#9C2A8F" stroke-width="2.0" />
<line x1="1749.7" y1="433" x2="1760.1" y2="433" stroke="#9C2A8F" stroke-width="2.0" />
<line x1="1775.35" y1="413.5" x2="1775.35" y2="434.5" stroke="#9C2A8F" stroke-width="2.0" />
<line x1="1770.15" y1="413.5" x2="1780.55" y2="413.5" stroke="#9C2A8F" stroke-width="2.0" />
<line x1="1770.15" y1="434.5" x2="1780.55" y2="434.5" stroke="#9C2A8F" stroke-width="2.0" />
<line x1="1795.8" y1="415" x2="1795.8" y2="436" stroke="#9C2A8F" stroke-width="2.0" />
<line x1="1790.6" y1="415" x2="1801" y2="415" stroke="#9C2A8F" stroke-width="2.0" />
<line x1="1790.6" y1="436" x2="1801" y2="436" stroke="#9C2A8F" stroke-width="2.0" />
<line x1="1816.25" y1="416.5" x2="1816.25" y2="437.5" stroke="#9C2A8F" stroke-width="2.0" />
<line x1="1811.05" y1="416.5" x2="1821.45" y2="416.5" stroke="#9C2A8F" stroke-width="2.0" />
<line x1="1811.05" y1="437.5" x2="1821.45" y2="437.5" stroke="#9C2A8F" stroke-width="2.0" />
<line x1="1836.7" y1="417.5" x2="1836.7" y2="439.5" stroke="#9C2A8F" stroke-width="2.0" />
<line x1="1831.5" y1="417.5" x2="1841.9" y2="417.5" stroke="#9C2A8F" stroke-width="2.0" />
<line x1="1831.5" y1="439.5" x2="1841.9" y2="439.5" stroke="#9C2A8F" stroke-width="2.0" />
<line x1="1857.15" y1="419" x2="1857.15" y2="441" stroke="#9C2A8F" stroke-width="2.0" />
<line x1="1851.95" y1="419" x2="1862.35" y2="419" stroke="#9C2A8F" stroke-width="2.0" />
<line x1="1851.95" y1="441" x2="1862.35" y2="441" stroke="#9C2A8F" stroke-width="2.0" />
<line x1="1877.6" y1="420.5" x2="1877.6" y2="442.5" stroke="#9C2A8F" stroke-width="2.0" />
<line x1="1872.4" y1="420.5" x2="1882.8" y2="420.5" stroke="#9C2A8F" stroke-width="2.0" />
<line x1="1872.4" y1="442.5" x2="1882.8" y2="442.5" stroke="#9C2A8F" stroke-width="2.0" />
<line x1="1898.05" y1="422.5" x2="1898.05" y2="444.5" stroke="#9C2A8F" stroke-width="2.0" />
<line x1="1892.85" y1="422.5" x2="1903.25" y2="422.5" stroke="#9C2A8F" stroke-width="2.0" />
<line x1="1892.85" y1="444.5" x2="1903.25" y2="444.5" stroke="#9C2A8F" stroke-width="2.0" />
<line x1="1918.5" y1="424.6" x2="1918.5" y2="446.6" stroke="#9C2A8F" stroke-width="2.0" />
<line x1="1913.3" y1="424.6" x2="1923.7" y2="424.6" stroke="#9C2A8F" stroke-width="2.0" />
<line x1="1913.3" y1="446.6" x2="1923.7" y2="446.6" stroke="#9C2A8F" stroke-width="2.0" />
<line x1="1938.95" y1="426" x2="1938.95" y2="448" stroke="#9C2A8F" stroke-width="2.0" />
<line x1="1933.75" y1="426" x2="1944.15" y2="426" stroke="#9C2A8F" stroke-width="2.0" />
<line x1="1933.75" y1="448" x2="1944.15" y2="448" stroke="#9C2A8F" stroke-width="2.0" />
<line x1="1959.4" y1="427" x2="1959.4" y2="449" stroke="#9C2A8F" stroke-width="2.0" />
<line x1="1954.2" y1="427" x2="1964.6" y2="427" stroke="#9C2A8F" stroke-width="2.0" />
<line x1="1954.2" y1="449" x2="1964.6" y2="449" stroke="#9C2A8F" stroke-width="2.0" />
<line x1="1979.85" y1="427.7" x2="1979.85" y2="450.1" stroke="#9C2A8F" stroke-width="2.0" />
<line x1="1974.65" y1="427.7" x2="1985.05" y2="427.7" stroke="#9C2A8F" stroke-width="2.0" />
<line x1="1974.65" y1="450.1" x2="1985.05" y2="450.1" stroke="#9C2A8F" stroke-width="2.0" />
<line x1="2000.3" y1="428.4" x2="2000.3" y2="451.2" stroke="#9C2A8F" stroke-width="2.0" />
<line x1="1995.1" y1="428.4" x2="2005.5" y2="428.4" stroke="#9C2A8F" stroke-width="2.0" />
<line x1="1995.1" y1="451.2" x2="2005.5" y2="451.2" stroke="#9C2A8F" stroke-width="2.0" />
<line x1="2020.75" y1="429.9" x2="2020.75" y2="451.9" stroke="#9C2A8F" stroke-width="2.0" />
<line x1="2015.55" y1="429.9" x2="2025.95" y2="429.9" stroke="#9C2A8F" stroke-width="2.0" />
<line x1="2015.55" y1="451.9" x2="2025.95" y2="451.9" stroke="#9C2A8F" stroke-width="2.0" />
<line x1="2041.2" y1="431.5" x2="2041.2" y2="453.1" stroke="#9C2A8F" stroke-width="2.0" />
<line x1="2036" y1="431.5" x2="2046.4" y2="431.5" stroke="#9C2A8F" stroke-width="2.0" />
<line x1="2036" y1="453.1" x2="2046.4" y2="453.1" stroke="#9C2A8F" stroke-width="2.0" />
<line x1="2061.65" y1="431" x2="2061.65" y2="453.4" stroke="#9C2A8F" stroke-width="2.0" />
<line x1="2056.45" y1="431" x2="2066.85" y2="431" stroke="#9C2A8F" stroke-width="2.0" />
<line x1="2056.45" y1="453.4" x2="2066.85" y2="453.4" stroke="#9C2A8F" stroke-width="2.0" />
<polyline points="1591.3,418.3 1611.75,405 1632.2,403.8 1652.65,406.3 1673.1,409 1693.55,413 1714,417 1734.45,420 1754.9,422.5 1775.35,424 1795.8,425.5 1816.25,427 1836.7,428.5 1857.15,430 1877.6,431.5 1898.05,433.5 1918.5,435.6 1938.95,437 1959.4,438 1979.85,438.9 2000.3,439.8 2020.75,440.9 2041.2,442.3 2061.65,442.2" fill="none" stroke="#9C2A8F" stroke-width="2.0" stroke-linejoin="miter" />
<circle cx="1591.3" cy="418.3" r="6.5" fill="#9C2A8F"/>
<circle cx="1611.75" cy="405" r="6.5" fill="#9C2A8F"/>
<circle cx="1632.2" cy="403.8" r="6.5" fill="#9C2A8F"/>
<circle cx="1652.65" cy="406.3" r="6.5" fill="#9C2A8F"/>
<circle cx="1673.1" cy="409" r="6.5" fill="#9C2A8F"/>
<circle cx="1693.55" cy="413" r="6.5" fill="#9C2A8F"/>
<circle cx="1714" cy="417" r="6.5" fill="#9C2A8F"/>
<circle cx="1734.45" cy="420" r="6.5" fill="#9C2A8F"/>
<circle cx="1754.9" cy="422.5" r="6.5" fill="#9C2A8F"/>
<circle cx="1775.35" cy="424" r="6.5" fill="#9C2A8F"/>
<circle cx="1795.8" cy="425.5" r="6.5" fill="#9C2A8F"/>
<circle cx="1816.25" cy="427" r="6.5" fill="#9C2A8F"/>
<circle cx="1836.7" cy="428.5" r="6.5" fill="#9C2A8F"/>
<circle cx="1857.15" cy="430" r="6.5" fill="#9C2A8F"/>
<circle cx="1877.6" cy="431.5" r="6.5" fill="#9C2A8F"/>
<circle cx="1898.05" cy="433.5" r="6.5" fill="#9C2A8F"/>
<circle cx="1918.5" cy="435.6" r="6.5" fill="#9C2A8F"/>
<circle cx="1938.95" cy="437" r="6.5" fill="#9C2A8F"/>
<circle cx="1959.4" cy="438" r="6.5" fill="#9C2A8F"/>
<circle cx="1979.85" cy="438.9" r="6.5" fill="#9C2A8F"/>
<circle cx="2000.3" cy="439.8" r="6.5" fill="#9C2A8F"/>
<circle cx="2020.75" cy="440.9" r="6.5" fill="#9C2A8F"/>
<circle cx="2041.2" cy="442.3" r="6.5" fill="#9C2A8F"/>
<circle cx="2061.65" cy="442.2" r="6.5" fill="#9C2A8F"/>
<line x1="1591.3" y1="427" x2="1591.3" y2="438.5" stroke="#2BB04A" stroke-width="2.0" />
<line x1="1586.1" y1="427" x2="1596.5" y2="427" stroke="#2BB04A" stroke-width="2.0" />
<line x1="1586.1" y1="438.5" x2="1596.5" y2="438.5" stroke="#2BB04A" stroke-width="2.0" />
<line x1="1611.75" y1="415" x2="1611.75" y2="433.2" stroke="#2BB04A" stroke-width="2.0" />
<line x1="1606.55" y1="415" x2="1616.95" y2="415" stroke="#2BB04A" stroke-width="2.0" />
<line x1="1606.55" y1="433.2" x2="1616.95" y2="433.2" stroke="#2BB04A" stroke-width="2.0" />
<line x1="1632.2" y1="413.3" x2="1632.2" y2="430.3" stroke="#2BB04A" stroke-width="2.0" />
<line x1="1627" y1="413.3" x2="1637.4" y2="413.3" stroke="#2BB04A" stroke-width="2.0" />
<line x1="1627" y1="430.3" x2="1637.4" y2="430.3" stroke="#2BB04A" stroke-width="2.0" />
<line x1="1652.65" y1="410.5" x2="1652.65" y2="426.5" stroke="#2BB04A" stroke-width="2.0" />
<line x1="1647.45" y1="410.5" x2="1657.85" y2="410.5" stroke="#2BB04A" stroke-width="2.0" />
<line x1="1647.45" y1="426.5" x2="1657.85" y2="426.5" stroke="#2BB04A" stroke-width="2.0" />
<line x1="1673.1" y1="407" x2="1673.1" y2="423" stroke="#2BB04A" stroke-width="2.0" />
<line x1="1667.9" y1="407" x2="1678.3" y2="407" stroke="#2BB04A" stroke-width="2.0" />
<line x1="1667.9" y1="423" x2="1678.3" y2="423" stroke="#2BB04A" stroke-width="2.0" />
<line x1="1693.55" y1="404" x2="1693.55" y2="418.5" stroke="#2BB04A" stroke-width="2.0" />
<line x1="1688.35" y1="404" x2="1698.75" y2="404" stroke="#2BB04A" stroke-width="2.0" />
<line x1="1688.35" y1="418.5" x2="1698.75" y2="418.5" stroke="#2BB04A" stroke-width="2.0" />
<line x1="1714" y1="397" x2="1714" y2="409" stroke="#2BB04A" stroke-width="2.0" />
<line x1="1708.8" y1="397" x2="1719.2" y2="397" stroke="#2BB04A" stroke-width="2.0" />
<line x1="1708.8" y1="409" x2="1719.2" y2="409" stroke="#2BB04A" stroke-width="2.0" />
<line x1="1734.45" y1="389" x2="1734.45" y2="400" stroke="#2BB04A" stroke-width="2.0" />
<line x1="1729.25" y1="389" x2="1739.65" y2="389" stroke="#2BB04A" stroke-width="2.0" />
<line x1="1729.25" y1="400" x2="1739.65" y2="400" stroke="#2BB04A" stroke-width="2.0" />
<line x1="1754.9" y1="372.5" x2="1754.9" y2="388" stroke="#2BB04A" stroke-width="2.0" />
<line x1="1749.7" y1="372.5" x2="1760.1" y2="372.5" stroke="#2BB04A" stroke-width="2.0" />
<line x1="1749.7" y1="388" x2="1760.1" y2="388" stroke="#2BB04A" stroke-width="2.0" />
<line x1="1775.35" y1="356" x2="1775.35" y2="364" stroke="#2BB04A" stroke-width="2.0" />
<line x1="1770.15" y1="356" x2="1780.55" y2="356" stroke="#2BB04A" stroke-width="2.0" />
<line x1="1770.15" y1="364" x2="1780.55" y2="364" stroke="#2BB04A" stroke-width="2.0" />
<line x1="1795.8" y1="336" x2="1795.8" y2="351" stroke="#2BB04A" stroke-width="2.0" />
<line x1="1790.6" y1="336" x2="1801" y2="336" stroke="#2BB04A" stroke-width="2.0" />
<line x1="1790.6" y1="351" x2="1801" y2="351" stroke="#2BB04A" stroke-width="2.0" />
<line x1="1816.25" y1="307.5" x2="1816.25" y2="323.8" stroke="#2BB04A" stroke-width="2.0" />
<line x1="1811.05" y1="307.5" x2="1821.45" y2="307.5" stroke="#2BB04A" stroke-width="2.0" />
<line x1="1811.05" y1="323.8" x2="1821.45" y2="323.8" stroke="#2BB04A" stroke-width="2.0" />
<line x1="1836.7" y1="277.5" x2="1836.7" y2="297" stroke="#2BB04A" stroke-width="2.0" />
<line x1="1831.5" y1="277.5" x2="1841.9" y2="277.5" stroke="#2BB04A" stroke-width="2.0" />
<line x1="1831.5" y1="297" x2="1841.9" y2="297" stroke="#2BB04A" stroke-width="2.0" />
<line x1="1857.15" y1="249" x2="1857.15" y2="277" stroke="#2BB04A" stroke-width="2.0" />
<line x1="1851.95" y1="249" x2="1862.35" y2="249" stroke="#2BB04A" stroke-width="2.0" />
<line x1="1851.95" y1="277" x2="1862.35" y2="277" stroke="#2BB04A" stroke-width="2.0" />
<line x1="1877.6" y1="228" x2="1877.6" y2="257.5" stroke="#2BB04A" stroke-width="2.0" />
<line x1="1872.4" y1="228" x2="1882.8" y2="228" stroke="#2BB04A" stroke-width="2.0" />
<line x1="1872.4" y1="257.5" x2="1882.8" y2="257.5" stroke="#2BB04A" stroke-width="2.0" />
<line x1="1898.05" y1="200" x2="1898.05" y2="242.5" stroke="#2BB04A" stroke-width="2.0" />
<line x1="1892.85" y1="200" x2="1903.25" y2="200" stroke="#2BB04A" stroke-width="2.0" />
<line x1="1892.85" y1="242.5" x2="1903.25" y2="242.5" stroke="#2BB04A" stroke-width="2.0" />
<line x1="1918.5" y1="191.8" x2="1918.5" y2="227.5" stroke="#2BB04A" stroke-width="2.0" />
<line x1="1913.3" y1="191.8" x2="1923.7" y2="191.8" stroke="#2BB04A" stroke-width="2.0" />
<line x1="1913.3" y1="227.5" x2="1923.7" y2="227.5" stroke="#2BB04A" stroke-width="2.0" />
<line x1="1938.95" y1="172" x2="1938.95" y2="212.5" stroke="#2BB04A" stroke-width="2.0" />
<line x1="1933.75" y1="172" x2="1944.15" y2="172" stroke="#2BB04A" stroke-width="2.0" />
<line x1="1933.75" y1="212.5" x2="1944.15" y2="212.5" stroke="#2BB04A" stroke-width="2.0" />
<line x1="1959.4" y1="155.8" x2="1959.4" y2="206" stroke="#2BB04A" stroke-width="2.0" />
<line x1="1954.2" y1="155.8" x2="1964.6" y2="155.8" stroke="#2BB04A" stroke-width="2.0" />
<line x1="1954.2" y1="206" x2="1964.6" y2="206" stroke="#2BB04A" stroke-width="2.0" />
<line x1="1979.85" y1="148.8" x2="1979.85" y2="195" stroke="#2BB04A" stroke-width="2.0" />
<line x1="1974.65" y1="148.8" x2="1985.05" y2="148.8" stroke="#2BB04A" stroke-width="2.0" />
<line x1="1974.65" y1="195" x2="1985.05" y2="195" stroke="#2BB04A" stroke-width="2.0" />
<line x1="2000.3" y1="140.5" x2="2000.3" y2="192.5" stroke="#2BB04A" stroke-width="2.0" />
<line x1="1995.1" y1="140.5" x2="2005.5" y2="140.5" stroke="#2BB04A" stroke-width="2.0" />
<line x1="1995.1" y1="192.5" x2="2005.5" y2="192.5" stroke="#2BB04A" stroke-width="2.0" />
<line x1="2020.75" y1="132.5" x2="2020.75" y2="189" stroke="#2BB04A" stroke-width="2.0" />
<line x1="2015.55" y1="132.5" x2="2025.95" y2="132.5" stroke="#2BB04A" stroke-width="2.0" />
<line x1="2015.55" y1="189" x2="2025.95" y2="189" stroke="#2BB04A" stroke-width="2.0" />
<line x1="2041.2" y1="135.5" x2="2041.2" y2="183" stroke="#2BB04A" stroke-width="2.0" />
<line x1="2036" y1="135.5" x2="2046.4" y2="135.5" stroke="#2BB04A" stroke-width="2.0" />
<line x1="2036" y1="183" x2="2046.4" y2="183" stroke="#2BB04A" stroke-width="2.0" />
<line x1="2061.65" y1="130.5" x2="2061.65" y2="185" stroke="#2BB04A" stroke-width="2.0" />
<line x1="2056.45" y1="130.5" x2="2066.85" y2="130.5" stroke="#2BB04A" stroke-width="2.0" />
<line x1="2056.45" y1="185" x2="2066.85" y2="185" stroke="#2BB04A" stroke-width="2.0" />
<polyline points="1591.3,432.5 1611.75,424.3 1632.2,421.8 1652.65,417.5 1673.1,415 1693.55,411.3 1714,403 1734.45,394.5 1754.9,380.5 1775.35,360 1795.8,344 1816.25,315.5 1836.7,287.5 1857.15,263.3 1877.6,242.5 1898.05,221.3 1918.5,209.5 1938.95,192 1959.4,180.5 1979.85,172 2000.3,166.3 2020.75,160.8 2041.2,158.8 2061.65,158" fill="none" stroke="#2BB04A" stroke-width="2.2" stroke-linejoin="miter" />
<circle cx="1591.3" cy="432.5" r="6.5" fill="#2BB04A"/>
<circle cx="1611.75" cy="424.3" r="6.5" fill="#2BB04A"/>
<circle cx="1632.2" cy="421.8" r="6.5" fill="#2BB04A"/>
<circle cx="1652.65" cy="417.5" r="6.5" fill="#2BB04A"/>
<circle cx="1673.1" cy="415" r="6.5" fill="#2BB04A"/>
<circle cx="1693.55" cy="411.3" r="6.5" fill="#2BB04A"/>
<circle cx="1714" cy="403" r="6.5" fill="#2BB04A"/>
<circle cx="1734.45" cy="394.5" r="6.5" fill="#2BB04A"/>
<circle cx="1754.9" cy="380.5" r="6.5" fill="#2BB04A"/>
<circle cx="1775.35" cy="360" r="6.5" fill="#2BB04A"/>
<circle cx="1795.8" cy="344" r="6.5" fill="#2BB04A"/>
<circle cx="1816.25" cy="315.5" r="6.5" fill="#2BB04A"/>
<circle cx="1836.7" cy="287.5" r="6.5" fill="#2BB04A"/>
<circle cx="1857.15" cy="263.3" r="6.5" fill="#2BB04A"/>
<circle cx="1877.6" cy="242.5" r="6.5" fill="#2BB04A"/>
<circle cx="1898.05" cy="221.3" r="6.5" fill="#2BB04A"/>
<circle cx="1918.5" cy="209.5" r="6.5" fill="#2BB04A"/>
<circle cx="1938.95" cy="192" r="6.5" fill="#2BB04A"/>
<circle cx="1959.4" cy="180.5" r="6.5" fill="#2BB04A"/>
<circle cx="1979.85" cy="172" r="6.5" fill="#2BB04A"/>
<circle cx="2000.3" cy="166.3" r="6.5" fill="#2BB04A"/>
<circle cx="2020.75" cy="160.8" r="6.5" fill="#2BB04A"/>
<circle cx="2041.2" cy="158.8" r="6.5" fill="#2BB04A"/>
<circle cx="2061.65" cy="158" r="6.5" fill="#2BB04A"/>
<line x1="1591.3" y1="403" x2="1591.3" y2="423" stroke="#231F20" stroke-width="2.0" />
<line x1="1586.1" y1="403" x2="1596.5" y2="403" stroke="#231F20" stroke-width="2.0" />
<line x1="1586.1" y1="423" x2="1596.5" y2="423" stroke="#231F20" stroke-width="2.0" />
<line x1="1611.75" y1="398" x2="1611.75" y2="417" stroke="#231F20" stroke-width="2.0" />
<line x1="1606.55" y1="398" x2="1616.95" y2="398" stroke="#231F20" stroke-width="2.0" />
<line x1="1606.55" y1="417" x2="1616.95" y2="417" stroke="#231F20" stroke-width="2.0" />
<line x1="1632.2" y1="399" x2="1632.2" y2="413.6" stroke="#231F20" stroke-width="2.0" />
<line x1="1627" y1="399" x2="1637.4" y2="399" stroke="#231F20" stroke-width="2.0" />
<line x1="1627" y1="413.6" x2="1637.4" y2="413.6" stroke="#231F20" stroke-width="2.0" />
<line x1="1652.65" y1="402.5" x2="1652.65" y2="420.1" stroke="#231F20" stroke-width="2.0" />
<line x1="1647.45" y1="402.5" x2="1657.85" y2="402.5" stroke="#231F20" stroke-width="2.0" />
<line x1="1647.45" y1="420.1" x2="1657.85" y2="420.1" stroke="#231F20" stroke-width="2.0" />
<line x1="1673.1" y1="397.5" x2="1673.1" y2="420.1" stroke="#231F20" stroke-width="2.0" />
<line x1="1667.9" y1="397.5" x2="1678.3" y2="397.5" stroke="#231F20" stroke-width="2.0" />
<line x1="1667.9" y1="420.1" x2="1678.3" y2="420.1" stroke="#231F20" stroke-width="2.0" />
<line x1="1693.55" y1="401.8" x2="1693.55" y2="423.2" stroke="#231F20" stroke-width="2.0" />
<line x1="1688.35" y1="401.8" x2="1698.75" y2="401.8" stroke="#231F20" stroke-width="2.0" />
<line x1="1688.35" y1="423.2" x2="1698.75" y2="423.2" stroke="#231F20" stroke-width="2.0" />
<line x1="1714" y1="405.8" x2="1714" y2="423.2" stroke="#231F20" stroke-width="2.0" />
<line x1="1708.8" y1="405.8" x2="1719.2" y2="405.8" stroke="#231F20" stroke-width="2.0" />
<line x1="1708.8" y1="423.2" x2="1719.2" y2="423.2" stroke="#231F20" stroke-width="2.0" />
<line x1="1734.45" y1="407.5" x2="1734.45" y2="426.5" stroke="#231F20" stroke-width="2.0" />
<line x1="1729.25" y1="407.5" x2="1739.65" y2="407.5" stroke="#231F20" stroke-width="2.0" />
<line x1="1729.25" y1="426.5" x2="1739.65" y2="426.5" stroke="#231F20" stroke-width="2.0" />
<line x1="1754.9" y1="406.2" x2="1754.9" y2="430.8" stroke="#231F20" stroke-width="2.0" />
<line x1="1749.7" y1="406.2" x2="1760.1" y2="406.2" stroke="#231F20" stroke-width="2.0" />
<line x1="1749.7" y1="430.8" x2="1760.1" y2="430.8" stroke="#231F20" stroke-width="2.0" />
<line x1="1775.35" y1="408.2" x2="1775.35" y2="430.4" stroke="#231F20" stroke-width="2.0" />
<line x1="1770.15" y1="408.2" x2="1780.55" y2="408.2" stroke="#231F20" stroke-width="2.0" />
<line x1="1770.15" y1="430.4" x2="1780.55" y2="430.4" stroke="#231F20" stroke-width="2.0" />
<line x1="1795.8" y1="410" x2="1795.8" y2="435" stroke="#231F20" stroke-width="2.0" />
<line x1="1790.6" y1="410" x2="1801" y2="410" stroke="#231F20" stroke-width="2.0" />
<line x1="1790.6" y1="435" x2="1801" y2="435" stroke="#231F20" stroke-width="2.0" />
<line x1="1816.25" y1="413.8" x2="1816.25" y2="436.2" stroke="#231F20" stroke-width="2.0" />
<line x1="1811.05" y1="413.8" x2="1821.45" y2="413.8" stroke="#231F20" stroke-width="2.0" />
<line x1="1811.05" y1="436.2" x2="1821.45" y2="436.2" stroke="#231F20" stroke-width="2.0" />
<line x1="1836.7" y1="415.8" x2="1836.7" y2="438.2" stroke="#231F20" stroke-width="2.0" />
<line x1="1831.5" y1="415.8" x2="1841.9" y2="415.8" stroke="#231F20" stroke-width="2.0" />
<line x1="1831.5" y1="438.2" x2="1841.9" y2="438.2" stroke="#231F20" stroke-width="2.0" />
<line x1="1857.15" y1="415.8" x2="1857.15" y2="440.8" stroke="#231F20" stroke-width="2.0" />
<line x1="1851.95" y1="415.8" x2="1862.35" y2="415.8" stroke="#231F20" stroke-width="2.0" />
<line x1="1851.95" y1="440.8" x2="1862.35" y2="440.8" stroke="#231F20" stroke-width="2.0" />
<line x1="1877.6" y1="418.2" x2="1877.6" y2="437.8" stroke="#231F20" stroke-width="2.0" />
<line x1="1872.4" y1="418.2" x2="1882.8" y2="418.2" stroke="#231F20" stroke-width="2.0" />
<line x1="1872.4" y1="437.8" x2="1882.8" y2="437.8" stroke="#231F20" stroke-width="2.0" />
<line x1="1898.05" y1="420" x2="1898.05" y2="440" stroke="#231F20" stroke-width="2.0" />
<line x1="1892.85" y1="420" x2="1903.25" y2="420" stroke="#231F20" stroke-width="2.0" />
<line x1="1892.85" y1="440" x2="1903.25" y2="440" stroke="#231F20" stroke-width="2.0" />
<line x1="1918.5" y1="422.5" x2="1918.5" y2="443.5" stroke="#231F20" stroke-width="2.0" />
<line x1="1913.3" y1="422.5" x2="1923.7" y2="422.5" stroke="#231F20" stroke-width="2.0" />
<line x1="1913.3" y1="443.5" x2="1923.7" y2="443.5" stroke="#231F20" stroke-width="2.0" />
<line x1="1938.95" y1="423" x2="1938.95" y2="442" stroke="#231F20" stroke-width="2.0" />
<line x1="1933.75" y1="423" x2="1944.15" y2="423" stroke="#231F20" stroke-width="2.0" />
<line x1="1933.75" y1="442" x2="1944.15" y2="442" stroke="#231F20" stroke-width="2.0" />
<line x1="1959.4" y1="425.5" x2="1959.4" y2="442.1" stroke="#231F20" stroke-width="2.0" />
<line x1="1954.2" y1="425.5" x2="1964.6" y2="425.5" stroke="#231F20" stroke-width="2.0" />
<line x1="1954.2" y1="442.1" x2="1964.6" y2="442.1" stroke="#231F20" stroke-width="2.0" />
<line x1="1979.85" y1="427.5" x2="1979.85" y2="442.5" stroke="#231F20" stroke-width="2.0" />
<line x1="1974.65" y1="427.5" x2="1985.05" y2="427.5" stroke="#231F20" stroke-width="2.0" />
<line x1="1974.65" y1="442.5" x2="1985.05" y2="442.5" stroke="#231F20" stroke-width="2.0" />
<line x1="2000.3" y1="428.2" x2="2000.3" y2="445.8" stroke="#231F20" stroke-width="2.0" />
<line x1="1995.1" y1="428.2" x2="2005.5" y2="428.2" stroke="#231F20" stroke-width="2.0" />
<line x1="1995.1" y1="445.8" x2="2005.5" y2="445.8" stroke="#231F20" stroke-width="2.0" />
<line x1="2020.75" y1="430.8" x2="2020.75" y2="446.8" stroke="#231F20" stroke-width="2.0" />
<line x1="2015.55" y1="430.8" x2="2025.95" y2="430.8" stroke="#231F20" stroke-width="2.0" />
<line x1="2015.55" y1="446.8" x2="2025.95" y2="446.8" stroke="#231F20" stroke-width="2.0" />
<line x1="2041.2" y1="432.5" x2="2041.2" y2="447.5" stroke="#231F20" stroke-width="2.0" />
<line x1="2036" y1="432.5" x2="2046.4" y2="432.5" stroke="#231F20" stroke-width="2.0" />
<line x1="2036" y1="447.5" x2="2046.4" y2="447.5" stroke="#231F20" stroke-width="2.0" />
<line x1="2061.65" y1="433.8" x2="2061.65" y2="446.2" stroke="#231F20" stroke-width="2.0" />
<line x1="2056.45" y1="433.8" x2="2066.85" y2="433.8" stroke="#231F20" stroke-width="2.0" />
<line x1="2056.45" y1="446.2" x2="2066.85" y2="446.2" stroke="#231F20" stroke-width="2.0" />
<polyline points="1591.3,413 1611.75,407.5 1632.2,406.3 1652.65,411.3 1673.1,408.8 1693.55,412.5 1714,414.5 1734.45,417 1754.9,418.5 1775.35,419.3 1795.8,422.5 1816.25,425 1836.7,427 1857.15,428.3 1877.6,428 1898.05,430 1918.5,433 1938.95,432.5 1959.4,433.8 1979.85,435 2000.3,437 2020.75,438.8 2041.2,440 2061.65,440" fill="none" stroke="#231F20" stroke-width="2.0" stroke-linejoin="miter" />
<circle cx="1591.3" cy="413" r="6.5" fill="#231F20"/>
<circle cx="1611.75" cy="407.5" r="6.5" fill="#231F20"/>
<circle cx="1632.2" cy="406.3" r="6.5" fill="#231F20"/>
<circle cx="1652.65" cy="411.3" r="6.5" fill="#231F20"/>
<circle cx="1673.1" cy="408.8" r="6.5" fill="#231F20"/>
<circle cx="1693.55" cy="412.5" r="6.5" fill="#231F20"/>
<circle cx="1714" cy="414.5" r="6.5" fill="#231F20"/>
<circle cx="1734.45" cy="417" r="6.5" fill="#231F20"/>
<circle cx="1754.9" cy="418.5" r="6.5" fill="#231F20"/>
<circle cx="1775.35" cy="419.3" r="6.5" fill="#231F20"/>
<circle cx="1795.8" cy="422.5" r="6.5" fill="#231F20"/>
<circle cx="1816.25" cy="425" r="6.5" fill="#231F20"/>
<circle cx="1836.7" cy="427" r="6.5" fill="#231F20"/>
<circle cx="1857.15" cy="428.3" r="6.5" fill="#231F20"/>
<circle cx="1877.6" cy="428" r="6.5" fill="#231F20"/>
<circle cx="1898.05" cy="430" r="6.5" fill="#231F20"/>
<circle cx="1918.5" cy="433" r="6.5" fill="#231F20"/>
<circle cx="1938.95" cy="432.5" r="6.5" fill="#231F20"/>
<circle cx="1959.4" cy="433.8" r="6.5" fill="#231F20"/>
<circle cx="1979.85" cy="435" r="6.5" fill="#231F20"/>
<circle cx="2000.3" cy="437" r="6.5" fill="#231F20"/>
<circle cx="2020.75" cy="438.8" r="6.5" fill="#231F20"/>
<circle cx="2041.2" cy="440" r="6.5" fill="#231F20"/>
<circle cx="2061.65" cy="440" r="6.5" fill="#231F20"/>
<line x1="1609.5" y1="73.3" x2="1648" y2="73.3" stroke="#231F20" stroke-width="2.2" />
<circle cx="1628.8" cy="73.3" r="6.6" fill="#231F20"/>
<text transform="translate(1663.5,82.1) scale(1,1.05)" text-anchor="start" font-size="23.0" fill="#231F20" >WT unstimulated</text>
<line x1="1609.5" y1="105.5" x2="1648" y2="105.5" stroke="#2BB04A" stroke-width="2.2" />
<circle cx="1628.8" cy="105.5" r="6.6" fill="#2BB04A"/>
<text transform="translate(1663.5,114.6) scale(1,1.05)" text-anchor="start" font-size="23.0" fill="#231F20" >WT + PMA</text>
<line x1="1609.5" y1="138" x2="1648" y2="138" stroke="#9C2A8F" stroke-width="2.2" />
<circle cx="1628.8" cy="138" r="6.6" fill="#9C2A8F"/>
<text transform="translate(1663.5,146.6) scale(1,1.05)" text-anchor="start" font-size="23.0" fill="#231F20" >TKT KO + PMA</text>
<line x1="1609.5" y1="171.3" x2="1648" y2="171.3" stroke="#5B93CE" stroke-width="2.2" />
<circle cx="1628.8" cy="171.3" r="6.6" fill="#5B93CE"/>
<text transform="translate(1663.5,179.1) scale(1,1.05)" text-anchor="start" font-size="23.0" fill="#231F20" >TALDO1 KO + PMA</text>
<text transform="translate(1,651.9) scale(1.0,1.06)" font-size="32" font-weight="bold" fill="#231F20">d</text>
<text transform="translate(23,901) rotate(-90) scale(1,1.05)" text-anchor="middle" font-size="23.0" fill="#231F20">CFU ml<tspan dy="-11.9" font-size="13.7">−1</tspan></text>
<line x1="140.2" y1="717.5" x2="140.2" y2="1083.5" stroke="#3a3a3a" stroke-width="1.3" />
<line x1="129.5" y1="1083.5" x2="618.8" y2="1083.5" stroke="#3a3a3a" stroke-width="1.3" />
<line x1="129.5" y1="717.5" x2="140.2" y2="717.5" stroke="#3a3a3a" stroke-width="1.3" />
<text transform="translate(116.5,725.5) scale(1,1.05)" text-anchor="end" font-size="23.0" fill="#231F20" >1 × 10<tspan dy="-11.9" font-size="13.7">5</tspan></text>
<line x1="129.5" y1="790.8" x2="140.2" y2="790.8" stroke="#3a3a3a" stroke-width="1.3" />
<text transform="translate(116.5,798.8) scale(1,1.05)" text-anchor="end" font-size="23.0" fill="#231F20" >8 × 10<tspan dy="-11.9" font-size="13.7">4</tspan></text>
<line x1="129.5" y1="863.8" x2="140.2" y2="863.8" stroke="#3a3a3a" stroke-width="1.3" />
<text transform="translate(116.5,871.8) scale(1,1.05)" text-anchor="end" font-size="23.0" fill="#231F20" >6 × 10<tspan dy="-11.9" font-size="13.7">4</tspan></text>
<line x1="129.5" y1="937" x2="140.2" y2="937" stroke="#3a3a3a" stroke-width="1.3" />
<text transform="translate(116.5,945) scale(1,1.05)" text-anchor="end" font-size="23.0" fill="#231F20" >4 × 10<tspan dy="-11.9" font-size="13.7">4</tspan></text>
<line x1="129.5" y1="1010.3" x2="140.2" y2="1010.3" stroke="#3a3a3a" stroke-width="1.3" />
<text transform="translate(116.5,1018.3) scale(1,1.05)" text-anchor="end" font-size="23.0" fill="#231F20" >2 × 10<tspan dy="-11.9" font-size="13.7">4</tspan></text>
<line x1="129.5" y1="1083.5" x2="140.2" y2="1083.5" stroke="#3a3a3a" stroke-width="1.3" />
<text transform="translate(115.8,1091.7) scale(1,1.05)" text-anchor="end" font-size="23.0" fill="#231F20" >0</text>
<line x1="248.3" y1="1083.5" x2="248.3" y2="1094.8" stroke="#3a3a3a" stroke-width="1.3" />
<text transform="translate(248.3,1126.6) scale(1,1.05)" text-anchor="middle" font-size="23.0" fill="#231F20" >+DMSO</text>
<line x1="379" y1="1083.5" x2="379" y2="1094.8" stroke="#3a3a3a" stroke-width="1.3" />
<text transform="translate(379,1126.6) scale(1,1.05)" text-anchor="middle" font-size="23.0" fill="#231F20" >+G6PDi</text>
<line x1="508.8" y1="1083.5" x2="508.8" y2="1094.8" stroke="#3a3a3a" stroke-width="1.3" />
<text transform="translate(508.8,1126.6) scale(1,1.05)" text-anchor="middle" font-size="23.0" fill="#231F20" >+DPI</text>
<rect x="194.5" y="978.5" width="108.5" height="105" fill="#9D1419"/>
<rect x="325" y="760.5" width="108.3" height="323" fill="#598BC8"/>
<rect x="455" y="799.5" width="108.3" height="284" fill="#ADAEB0"/>
<line x1="248.3" y1="956.3" x2="248.3" y2="978.5" stroke="#231F20" stroke-width="2.2" />
<line x1="221.5" y1="956.3" x2="275.1" y2="956.3" stroke="#231F20" stroke-width="2.2" />
<circle cx="248.3" cy="959" r="5.2" fill="#231F20"/>
<circle cx="248.3" cy="973.5" r="5.2" fill="#231F20"/>
<circle cx="248.3" cy="1003.3" r="5.2" fill="#231F20"/>
<line x1="379" y1="754.6" x2="379" y2="760.5" stroke="#231F20" stroke-width="2.2" />
<line x1="352.4" y1="754.6" x2="405.6" y2="754.6" stroke="#231F20" stroke-width="2.2" />
<circle cx="366.3" cy="753.8" r="5.2" fill="#231F20"/>
<circle cx="379" cy="765" r="5.2" fill="#231F20"/>
<circle cx="391.3" cy="761.3" r="5.2" fill="#231F20"/>
<line x1="508.8" y1="763.8" x2="508.8" y2="799.5" stroke="#231F20" stroke-width="2.2" />
<line x1="481.9" y1="763.8" x2="535.7" y2="763.8" stroke="#231F20" stroke-width="2.2" />
<circle cx="508.8" cy="768.8" r="5.2" fill="#231F20"/>
<circle cx="508.8" cy="790.8" r="5.2" fill="#231F20"/>
<circle cx="508.8" cy="838.3" r="5.2" fill="#231F20"/>
<polyline points="235.2,760 235.2,706.8 378.3,706.8 378.3,738.8" fill="none" stroke="#231F20" stroke-width="2.2" stroke-linejoin="miter" />
<polyline points="236.8,681.3 236.8,647.8 504.3,647.8 504.3,681.3" fill="none" stroke="#231F20" stroke-width="2.2" stroke-linejoin="miter" />
<text transform="translate(369.5,625.88) scale(1,1.0)" text-anchor="middle" font-size="30" fill="#231F20" >*</text>
<text transform="translate(317,641.3) scale(1,1.05)" text-anchor="start" font-size="23.0" fill="#231F20" ><tspan font-style="italic">P</tspan> = 0.002</text>
<text transform="translate(306.3,685.88) scale(1,1.0)" text-anchor="middle" font-size="30" fill="#231F20" >*</text>
<text transform="translate(255,697) scale(1,1.05)" text-anchor="start" font-size="23.0" fill="#231F20" ><tspan font-style="italic">P</tspan> &lt; 0.0001</text>
<text transform="translate(688.5,651.9) scale(1.0,1.06)" font-size="32" font-weight="bold" fill="#231F20">e</text>
<text transform="translate(712.2,910) rotate(-90) scale(1,1.05)" text-anchor="middle" font-size="23.0" fill="#231F20">CFU ml<tspan dy="-11.9" font-size="13.7">−1</tspan></text>
<line x1="846.3" y1="749.3" x2="846.3" y2="1067.3" stroke="#3a3a3a" stroke-width="1.3" />
<line x1="837" y1="1067.3" x2="1325.7" y2="1067.3" stroke="#3a3a3a" stroke-width="1.3" />
<line x1="837" y1="749.3" x2="846.3" y2="749.3" stroke="#3a3a3a" stroke-width="1.3" />
<text transform="translate(824.5,764.3) scale(1,1.05)" text-anchor="end" font-size="23.0" fill="#231F20" >1.5 × 10<tspan dy="-11.9" font-size="13.7">5</tspan></text>
<line x1="837" y1="855.1" x2="846.3" y2="855.1" stroke="#3a3a3a" stroke-width="1.3" />
<text transform="translate(824.5,870.1) scale(1,1.05)" text-anchor="end" font-size="23.0" fill="#231F20" >1.0 × 10<tspan dy="-11.9" font-size="13.7">5</tspan></text>
<line x1="837" y1="961.5" x2="846.3" y2="961.5" stroke="#3a3a3a" stroke-width="1.3" />
<text transform="translate(824.5,976.5) scale(1,1.05)" text-anchor="end" font-size="23.0" fill="#231F20" >5.0 × 10<tspan dy="-11.9" font-size="13.7">4</tspan></text>
<line x1="837" y1="1067.3" x2="846.3" y2="1067.3" stroke="#3a3a3a" stroke-width="1.3" />
<text transform="translate(823.8,1075.5) scale(1,1.05)" text-anchor="end" font-size="23.0" fill="#231F20" >0</text>
<line x1="919.3" y1="1067.3" x2="919.3" y2="1076.5" stroke="#3a3a3a" stroke-width="1.3" />
<text transform="translate(919.3,1107.8) scale(1,1.05)" text-anchor="middle" font-size="23.0" fill="#231F20" >WT</text>
<line x1="1029.3" y1="1067.3" x2="1029.3" y2="1076.5" stroke="#3a3a3a" stroke-width="1.3" />
<text transform="translate(1029.3,1107.8) scale(1,1.05)" text-anchor="middle" font-size="23.0" fill="#231F20" >WT</text>
<text transform="translate(1029.3,1135) scale(1,1.05)" text-anchor="middle" font-size="23.0" fill="#231F20" >+ DPI</text>
<line x1="1139.3" y1="1067.3" x2="1139.3" y2="1076.5" stroke="#3a3a3a" stroke-width="1.3" />
<text transform="translate(1139.3,1107.8) scale(1,1.05)" text-anchor="middle" font-size="23.0" fill="#231F20" >TKT</text>
<text transform="translate(1139.3,1135) scale(1,1.05)" text-anchor="middle" font-size="23.0" fill="#231F20" >KO</text>
<line x1="1249.7" y1="1067.3" x2="1249.7" y2="1076.5" stroke="#3a3a3a" stroke-width="1.3" />
<text transform="translate(1249.7,1107.8) scale(1,1.05)" text-anchor="middle" font-size="23.0" fill="#231F20" >TALDO1</text>
<text transform="translate(1249.7,1135) scale(1,1.05)" text-anchor="middle" font-size="23.0" fill="#231F20" >KO</text>
<defs><pattern id="chk" x="1102.9" y="874.4" width="6.4" height="6.4" patternUnits="userSpaceOnUse"><rect x="0.1" y="0.1" width="3.0" height="3.0" fill="#990508"/><rect x="3.3" y="3.3" width="3.0" height="3.0" fill="#990508"/></pattern></defs>
<rect x="883" y="1026" width="72.8" height="41.3" fill="#9D1419"/>
<rect x="993" y="824.3" width="73.3" height="243" fill="#ADAEB0"/>
<rect x="1102.9" y="874.4" width="72.9" height="192.9" fill="url(#chk)"/>
<rect x="1212.5" y="886.5" width="74.3" height="180.8" fill="#C01F33"/>
<line x1="919.3" y1="975.8" x2="919.3" y2="1026" stroke="#231F20" stroke-width="2.2" />
<line x1="901.1" y1="975.8" x2="937.5" y2="975.8" stroke="#231F20" stroke-width="2.2" />
<circle cx="919.3" cy="967.8" r="4.4" fill="#231F20"/>
<circle cx="914.3" cy="1057" r="4.4" fill="#231F20"/>
<circle cx="923.8" cy="1053.3" r="4.4" fill="#231F20"/>
<line x1="1029.3" y1="808" x2="1029.3" y2="824.3" stroke="#231F20" stroke-width="2.2" />
<line x1="1011.1" y1="808" x2="1047.5" y2="808" stroke="#231F20" stroke-width="2.2" />
<circle cx="1029.3" cy="808" r="4.4" fill="#231F20"/>
<circle cx="1029.3" cy="823.3" r="4.4" fill="#231F20"/>
<circle cx="1029.3" cy="840.5" r="4.4" fill="#231F20"/>
<line x1="1139.3" y1="845" x2="1139.3" y2="874.4" stroke="#231F20" stroke-width="2.2" />
<line x1="1120.9" y1="845" x2="1157.7" y2="845" stroke="#231F20" stroke-width="2.2" />
<circle cx="1139.3" cy="849.3" r="4.4" fill="#231F20"/>
<circle cx="1139.3" cy="867" r="4.4" fill="#231F20"/>
<circle cx="1139.3" cy="906.5" r="4.4" fill="#231F20"/>
<line x1="1249.7" y1="858.8" x2="1249.7" y2="886.5" stroke="#231F20" stroke-width="2.2" />
<line x1="1231.3" y1="858.8" x2="1268.1" y2="858.8" stroke="#231F20" stroke-width="2.2" />
<circle cx="1249.7" cy="857" r="4.4" fill="#231F20"/>
<circle cx="1249.7" cy="892" r="4.4" fill="#231F20"/>
<circle cx="1249.7" cy="912.8" r="4.4" fill="#231F20"/>
<polyline points="915.6,678.5 915.6,661.3 1250.8,661.3 1250.8,678.5" fill="none" stroke="#231F20" stroke-width="2.2" stroke-linejoin="miter" />
<polyline points="915.6,735 915.6,717.5 1139.3,717.5 1139.3,735" fill="none" stroke="#231F20" stroke-width="2.2" stroke-linejoin="miter" />
<polyline points="915.6,842 915.6,778.8 1028,778.8 1028,786.3" fill="none" stroke="#231F20" stroke-width="2.2" stroke-linejoin="miter" />
<text transform="translate(1070.8,629.38) scale(1,1.0)" text-anchor="middle" font-size="30" fill="#231F20" >*</text>
<text transform="translate(1024,646.3) scale(1,1.05)" text-anchor="start" font-size="23.0" fill="#231F20" ><tspan font-style="italic">P</tspan> = 0.014</text>
<text transform="translate(1024.5,692.88) scale(1,1.0)" text-anchor="middle" font-size="30" fill="#231F20" >*</text>
<text transform="translate(977.5,705.8) scale(1,1.05)" text-anchor="start" font-size="23.0" fill="#231F20" ><tspan font-style="italic">P</tspan> = 0.011</text>
<text transform="translate(968.3,752.88) scale(1,1.0)" text-anchor="middle" font-size="30" fill="#231F20" >*</text>
<text transform="translate(920.3,765.5) scale(1,1.05)" text-anchor="start" font-size="23.0" fill="#231F20" ><tspan font-style="italic">P</tspan> = 0.003</text>
<text transform="translate(1408,651.9) scale(1.0,1.06)" font-size="32" font-weight="bold" fill="#231F20">f</text>
<text transform="translate(1428.5,885.5) rotate(-90) scale(1,1.05)" text-anchor="middle" font-size="23.0" fill="#231F20">Percentage survival</text>
<line x1="1520.8" y1="701.3" x2="1520.8" y2="1086" stroke="#8A8A8A" stroke-width="1.9" />
<line x1="1506.3" y1="1071" x2="2074" y2="1071" stroke="#231F20" stroke-width="1.3" />
<line x1="1506.3" y1="1071" x2="1520.8" y2="1071" stroke="#231F20" stroke-width="1.3" />
<text transform="translate(1492.5,1079.4) scale(1,1.05)" text-anchor="end" font-size="23.0" fill="#231F20" >0</text>
<line x1="1506.3" y1="1004" x2="1520.8" y2="1004" stroke="#231F20" stroke-width="1.3" />
<text transform="translate(1492.5,1012.4) scale(1,1.05)" text-anchor="end" font-size="23.0" fill="#231F20" >20</text>
<line x1="1506.3" y1="937" x2="1520.8" y2="937" stroke="#231F20" stroke-width="1.3" />
<text transform="translate(1492.5,945.4) scale(1,1.05)" text-anchor="end" font-size="23.0" fill="#231F20" >40</text>
<line x1="1506.3" y1="870" x2="1520.8" y2="870" stroke="#231F20" stroke-width="1.3" />
<text transform="translate(1492.5,878.4) scale(1,1.05)" text-anchor="end" font-size="23.0" fill="#231F20" >60</text>
<line x1="1506.3" y1="803" x2="1520.8" y2="803" stroke="#231F20" stroke-width="1.3" />
<text transform="translate(1492.5,811.4) scale(1,1.05)" text-anchor="end" font-size="23.0" fill="#231F20" >80</text>
<line x1="1506.3" y1="736" x2="1520.8" y2="736" stroke="#231F20" stroke-width="1.3" />
<text transform="translate(1492.5,744.4) scale(1,1.05)" text-anchor="end" font-size="23.0" fill="#231F20" >100</text>
<text transform="translate(1520.8,1117.8) scale(1,1.05)" text-anchor="middle" font-size="23.0" fill="#231F20" >0</text>
<line x1="1659.1" y1="1071" x2="1659.1" y2="1086" stroke="#555" stroke-width="1.3" />
<text transform="translate(1659.1,1117.8) scale(1,1.05)" text-anchor="middle" font-size="23.0" fill="#231F20" >1</text>
<line x1="1797.4" y1="1071" x2="1797.4" y2="1086" stroke="#555" stroke-width="1.3" />
<text transform="translate(1797.4,1117.8) scale(1,1.05)" text-anchor="middle" font-size="23.0" fill="#231F20" >2</text>
<line x1="1935.7" y1="1071" x2="1935.7" y2="1086" stroke="#555" stroke-width="1.3" />
<text transform="translate(1935.7,1117.8) scale(1,1.05)" text-anchor="middle" font-size="23.0" fill="#231F20" >3</text>
<line x1="2074" y1="1071" x2="2074" y2="1086" stroke="#555" stroke-width="1.3" />
<text transform="translate(2074,1117.8) scale(1,1.05)" text-anchor="middle" font-size="23.0" fill="#231F20" >4</text>
<text transform="translate(1797.5,1156.5) scale(1,1.05)" text-anchor="middle" font-size="23.0" fill="#231F20" >DPI</text>
<polyline points="1520.8,736 2074,736 2074,777.88" fill="none" stroke="#F0822F" stroke-width="2.0" stroke-linejoin="miter" />
<polyline points="1520.8,736 1935.7,736 1935.7,886.75 2074,886.75 2074,970.5" fill="none" stroke="#E8262C" stroke-width="2.0" stroke-linejoin="miter" />
<rect x="1927.7" y="878.75" width="16" height="16" rx="1.5" fill="#E8262C"/>
<rect x="2066" y="962.5" width="16" height="16" rx="1.5" fill="#E8262C"/>
<line x1="1520.8" y1="736" x2="2074" y2="736" stroke="#2BB04A" stroke-width="4.8" />
<polygon points="2074,731 2082.5,746 2065.5,746" fill="#2BB04A" stroke="#2BB04A" stroke-width="1" stroke-linejoin="round"/>
<polyline points="1520.8,736 1659.1,736 1659.1,752.75 2074,752.75" fill="none" stroke="#7B3294" stroke-width="2.2" stroke-linejoin="miter" />
<polygon points="1659.1,762.35 1667.6,746.35 1650.6,746.35" fill="#7B3294" stroke="#7B3294" stroke-width="1" stroke-linejoin="round"/>
<polygon points="2074,762.35 2082.5,746.35 2065.5,746.35" fill="#7B3294" stroke="#7B3294" stroke-width="1" stroke-linejoin="round"/>
<polygon points="2074,770.08 2081.8,777.88 2074,785.67 2066.2,777.88" fill="#F0822F" stroke="#F0822F" stroke-width="0.8" stroke-linejoin="round"/>
<polyline points="1659.1,769.5 1797.4,769.5 1797.4,819.75 1935.7,819.75 1935.7,870 2074,870 2074,920.25" fill="none" stroke="#231F20" stroke-width="2.2" stroke-linejoin="miter" />
<circle cx="1659.1" cy="769.5" r="8.3" fill="#231F20"/>
<circle cx="1797.4" cy="819.75" r="8.3" fill="#231F20"/>
<circle cx="1935.7" cy="870" r="8.3" fill="#231F20"/>
<circle cx="2074" cy="920.25" r="8.3" fill="#231F20"/>
<line x1="1520.8" y1="736" x2="2074" y2="736" stroke="#1F4AA0" stroke-width="2.2" stroke-dasharray="8.1 9" stroke-dashoffset="3.8"/>
<circle cx="2074" cy="736" r="8.5" fill="#1F4AA0"/>
<text transform="translate(1907.5,936.5) scale(1,1.05)" text-anchor="start" font-size="23.0" fill="#231F20" ><tspan font-style="italic">P</tspan> &lt; 0.0001</text>
<text transform="translate(1907.5,983.5) scale(1,1.05)" text-anchor="start" font-size="23.0" fill="#231F20" ><tspan font-style="italic">P</tspan> &lt; 0.0001</text>
<text transform="translate(2098.5,940.88) scale(1,1.0)" text-anchor="middle" font-size="30" fill="#231F20" >*</text>
<text transform="translate(2098.5,995.88) scale(1,1.0)" text-anchor="middle" font-size="30" fill="#231F20" >*</text>
<line x1="1547.5" y1="872.1" x2="1587" y2="872.1" stroke="#1F4AA0" stroke-width="2.2" stroke-dasharray="2.5 3.5"/>
<circle cx="1567.2" cy="872.1" r="6.9" fill="#1F4AA0"/>
<text transform="translate(1609.7,878.1) scale(1,1.05)" text-anchor="start" font-size="23.0" fill="#231F20" >p22<tspan dy="-11.9" font-size="13.7">−/−</tspan><tspan dy="11.9"> PBS + DMSO</tspan></text>
<line x1="1547.5" y1="903.2" x2="1587" y2="903.2" stroke="#E8262C" stroke-width="2.2" />
<rect x="1560.2" y="896.2" width="14" height="14" rx="1.2" fill="#E8262C"/>
<text transform="translate(1609.7,910.1) scale(1,1.05)" text-anchor="start" font-size="23.0" fill="#231F20" >p22<tspan dy="-11.9" font-size="13.7">−/−</tspan><tspan dy="11.9"> <tspan font-style="italic">A. nid.</tspan> + DMSO</tspan></text>
<line x1="1547.5" y1="933.3" x2="1587" y2="933.3" stroke="#2BB04A" stroke-width="2.2" />
<polygon points="1567.2,924 1574.2,937 1560.2,937" fill="#2BB04A" stroke="#2BB04A" stroke-width="1" stroke-linejoin="round"/>
<text transform="translate(1609.7,943.7) scale(1,1.05)" text-anchor="start" font-size="23.0" fill="#231F20" >WT PBS + DMSO</text>
<line x1="1547.5" y1="972.6" x2="1587" y2="972.6" stroke="#7B3294" stroke-width="2.2" />
<polygon points="1567.2,979.4 1574.2,966.4 1560.2,966.4" fill="#7B3294" stroke="#7B3294" stroke-width="1" stroke-linejoin="round"/>
<text transform="translate(1609.7,976.3) scale(1,1.05)" text-anchor="start" font-size="23.0" fill="#231F20" >WT <tspan font-style="italic">A. nid.</tspan> + DMSO</text>
<line x1="1547.5" y1="1000.9" x2="1587" y2="1000.9" stroke="#F0822F" stroke-width="2.2" />
<polygon points="1567.2,993.9 1574.2,1000.9 1567.2,1007.9 1560.2,1000.9" fill="#F0822F" stroke="#F0822F" stroke-width="0.8" stroke-linejoin="round"/>
<text transform="translate(1609.7,1008.9) scale(1,1.05)" text-anchor="start" font-size="23.0" fill="#231F20" >WT PBS + 6-AN</text>
<line x1="1547.5" y1="1038" x2="1587" y2="1038" stroke="#231F20" stroke-width="2.2" />
<circle cx="1567.2" cy="1038" r="6.9" fill="#231F20"/>
<text transform="translate(1609.7,1041.7) scale(1,1.05)" text-anchor="start" font-size="23.0" fill="#231F20" >WT <tspan font-style="italic">A. nid.</tspan> + 6-AN</text>
</svg>
</body></html>
